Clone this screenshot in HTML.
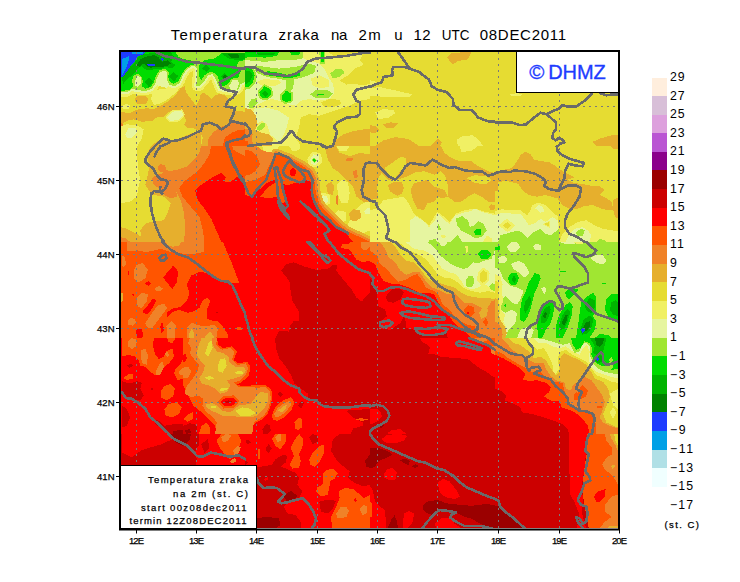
<!DOCTYPE html>
<html lang="hr"><head><meta charset="utf-8"><title>Temperatura zraka na 2m</title>
<style>
html,body{margin:0;padding:0;background:#fff}
svg{display:block;font-family:"Liberation Sans","DejaVu Sans",sans-serif}
.gr{stroke:#7a7a7a;stroke-width:1;stroke-dasharray:2 4;fill:none}
.co{stroke:#6a6a6a;stroke-width:2.6;fill:none;stroke-linejoin:round;stroke-linecap:round;shape-rendering:crispEdges}
.ax{font-size:9.5px;fill:#000;stroke:#000;stroke-width:0.25px}
.lg{font-size:12.3px;fill:#000;letter-spacing:1px}
.tt{font-size:15px;fill:#000}
.bx{font-size:9.5px;fill:#000;stroke:#000;stroke-width:0.25px}
</style></head><body>
<svg width="740" height="582" viewBox="0 0 740 582">
<rect width="740" height="582" fill="#fff"/>
<text y="40" class="tt"><tspan x="170.8" textLength="96.5">Temperatura</tspan> <tspan x="278.6" textLength="40.3">zraka</tspan> <tspan x="331.1" textLength="16.2">na</tspan> <tspan x="358.6" textLength="22.2">2m</tspan> <tspan x="394.2" textLength="6.5">u</tspan> <tspan x="413.5" textLength="17">12</tspan> <tspan x="441.7" textLength="27.7" lengthAdjust="spacingAndGlyphs">UTC</tspan> <tspan x="479.8" textLength="86.2">08DEC2011</tspan></text>
<g shape-rendering="crispEdges">
<rect x="121" y="52" width="497" height="476" fill="#E6DC32"/>
</g>
<svg x="121" y="52" width="497" height="476" viewBox="121 52 497 476">
<g shape-rendering="crispEdges">
<svg x="120" y="50" width="125" height="96" viewBox="120 50 125 96">
<rect x="120" y="50" width="125" height="96" fill="#E6DC32"/>
<polygon fill="#F0F064" points="152.1,92.2 157.2,89.7 169.0,88.0 177.4,86.3 178.3,90.5 172.4,95.6 165.6,100.7 158.9,104.1 153.8,104.9 151.2,99.0"/>
<polygon fill="#F0F064" points="120.0,126.0 126.8,124.3 136.9,125.2 143.6,129.4 142.0,137.8 137.7,145.9 120.0,145.9"/>
<polygon fill="#F0F064" points="121.7,106.6 125.9,103.7 130.1,105.7 128.4,109.1 123.4,109.5"/>
<polygon fill="#E6F5A0" points="125.1,134.5 128.4,128.5 136.0,127.7 136.9,132.8 131.8,137.8 126.8,137.8"/>
<polygon fill="#E6AF2D" points="134.4,99.8 137.7,95.9 145.3,95.9 148.7,99.8 145.3,104.1 137.7,104.1"/>
<polygon fill="#E6AF2D" points="120.0,112.2 130.1,112.8 138.6,109.1 147.0,108.3 153.8,109.1 160.5,105.7 169.0,100.7 175.7,94.8 180.8,88.0 185.0,86.3 185.9,92.2 190.9,99.0 196.0,105.7 199.4,99.0 201.1,93.6 204.5,93.1 207.8,95.6 211.2,99.0 214.6,95.6 219.7,93.9 225.6,95.6 229.0,100.7 229.8,107.4 233.2,110.8 245.0,111.7 245.0,145.9 201.1,145.9 202.8,137.8 199.4,131.1 194.3,128.5 187.6,127.7 184.2,124.3 185.9,120.9 185.0,117.6 182.5,112.5 175.7,110.0 169.0,111.7 163.9,116.7 157.2,117.2 152.1,120.9 142.0,121.8 133.5,119.3 126.8,120.9 120.0,125.2"/>
<polygon fill="#E6AF2D" points="151.2,145.9 157.2,141.2 163.9,137.8 170.7,142.1 180.8,137.8 190.9,133.6 201.1,129.4 201.1,145.9"/>
<polygon fill="#F0F064" stroke="#F0F064" stroke-width="2.7" stroke-linejoin="round" points="167.3,117.6 172.4,111.7 181.7,110.8 183.3,115.0 178.3,120.1 170.7,120.9"/>
<polygon fill="#E6F5A0" points="167.3,117.6 172.4,111.7 181.7,110.8 183.3,115.0 178.3,120.1 170.7,120.9"/>
<polygon fill="#F08228" points="207.8,145.9 208.7,137.8 214.6,131.1 221.4,126.9 228.1,124.3 232.3,121.8 238.2,122.6 245.0,124.3 245.0,145.9"/>
<polygon fill="#F08228" points="120.0,122.3 122.4,123.0 122.7,125.7 120.0,126.4"/>
<polygon fill="#FF5500" points="223.0,145.9 224.7,137.8 231.5,132.8 238.2,130.2 245.0,129.4 245.0,145.9"/>
<polygon fill="#F0F064" stroke="#F0F064" stroke-width="8.8" stroke-linejoin="round" points="120.0,50.0 245.0,50.0 245.0,82.1 240.8,83.8 238.2,89.7 233.2,91.4 228.1,90.5 223.0,89.7 219.7,88.9 217.6,83.8 214.9,77.0 212.1,74.0 208.2,75.3 204.5,80.7 199.7,86.3 196.4,86.3 196.9,77.0 197.4,68.6 194.3,66.0 190.9,66.4 186.7,69.9 183.3,74.5 181.1,79.6 178.8,83.8 174.1,86.3 169.3,84.6 166.8,79.6 167.3,73.3 164.8,70.6 160.2,72.0 156.8,77.9 155.1,84.6 151.2,89.2 145.3,90.9 136.9,90.2 131.8,88.5 127.6,92.2 120.0,92.2"/>
<polygon fill="#E6F5A0" stroke="#E6F5A0" stroke-width="4.1" stroke-linejoin="round" points="120.0,50.0 245.0,50.0 245.0,82.1 240.8,83.8 238.2,89.7 233.2,91.4 228.1,90.5 223.0,89.7 219.7,88.9 217.6,83.8 214.9,77.0 212.1,74.0 208.2,75.3 204.5,80.7 199.7,86.3 196.4,86.3 196.9,77.0 197.4,68.6 194.3,66.0 190.9,66.4 186.7,69.9 183.3,74.5 181.1,79.6 178.8,83.8 174.1,86.3 169.3,84.6 166.8,79.6 167.3,73.3 164.8,70.6 160.2,72.0 156.8,77.9 155.1,84.6 151.2,89.2 145.3,90.9 136.9,90.2 131.8,88.5 127.6,92.2 120.0,92.2"/>
<polygon fill="#E6F5A0" points="155.1,84.6 156.8,77.9 160.2,72.0 164.8,70.6 167.3,73.3 166.8,79.6 169.3,84.6 166.5,88.0 160.5,86.3"/>
<polygon fill="#A0E632" points="120.0,50.0 245.0,50.0 245.0,82.1 240.8,83.8 238.2,89.7 233.2,91.4 228.1,90.5 223.0,89.7 219.7,88.9 217.6,83.8 214.9,77.0 212.1,74.0 208.2,75.3 204.5,80.7 199.7,86.3 196.4,86.3 196.9,77.0 197.4,68.6 194.3,66.0 190.9,66.4 186.7,69.9 183.3,74.5 181.1,79.6 178.8,83.8 174.1,86.3 169.3,84.6 166.8,79.6 167.3,73.3 164.8,70.6 160.2,72.0 156.8,77.9 155.1,84.6 151.2,89.2 145.3,90.9 136.9,90.2 131.8,88.5 127.6,92.2 120.0,92.2"/>
<polygon fill="#00DC00" points="120.0,52.0 175.7,52.0 178.3,56.8 184.2,59.3 190.9,60.1 194.3,64.4 190.9,65.2 186.7,67.7 182.5,72.8 180.0,78.7 177.4,82.1 173.2,83.8 169.8,82.1 168.1,77.0 169.0,72.0 165.6,68.9 159.7,69.9 156.3,75.3 153.8,82.1 150.4,87.2 145.3,88.9 142.0,86.3 142.8,81.2 141.1,76.2 136.9,73.6 133.5,76.2 131.8,81.2 133.5,86.3 130.1,89.7 125.1,90.5 120.0,90.5"/>
<polygon fill="#00DC00" points="199.4,65.2 204.5,60.1 214.6,58.4 221.4,53.4 245.0,53.4 245.0,60.1 238.2,61.8 236.6,66.9 240.8,71.1 238.2,77.9 231.5,78.7 228.1,83.8 223.0,86.3 219.7,83.8 218.0,77.0 214.6,72.8 209.5,72.0 204.5,75.3 201.1,80.4 198.5,75.3"/>
<polygon fill="#A0E632" stroke="#A0E632" stroke-width="2.4" stroke-linejoin="round" points="134.9,81.2 137.7,75.3 141.1,77.9 140.6,83.8 137.7,86.8 135.2,85.5"/>
<polygon fill="#E6F5A0" points="134.9,81.2 137.7,75.3 141.1,77.9 140.6,83.8 137.7,86.8 135.2,85.5"/>
<polygon fill="#E6F5A0" points="229.0,86.3 232.3,80.4 237.4,79.6 239.1,83.8 236.6,89.7 231.5,90.5"/>
<polygon fill="#00B400" points="130.1,66.9 134.4,62.7 138.6,56.8 143.6,54.2 150.4,53.4 158.9,52.0 170.7,52.0 174.1,56.8 170.7,61.8 175.7,65.2 172.4,68.6 165.6,66.9 162.2,68.6 155.5,68.6 150.4,70.3 145.3,69.4 142.0,66.0 137.7,68.6 134.4,73.6 130.1,77.0 126.8,79.6 123.4,83.8 121.7,78.7 125.1,73.6"/>
<polygon fill="#00B400" points="144.5,82.1 148.7,77.4 152.9,81.8 149.1,87.2"/>
<polygon fill="#00B400" points="169.3,76.7 173.7,72.0 178.3,76.2 174.1,81.2"/>
<polygon fill="#00B400" points="202.4,68.6 206.1,64.9 209.9,68.6 206.5,72.3"/>
<polygon fill="#00B400" points="221.4,53.4 245.0,53.4 245.0,59.3 236.6,60.1 228.1,58.4"/>
<polygon fill="#00B400" points="221.0,77.0 224.7,73.3 229.0,77.0 225.1,80.7"/>
<polygon fill="#008200" points="136.9,65.2 140.3,59.3 145.3,56.8 153.8,55.1 158.0,56.8 162.2,61.8 168.1,60.1 170.7,63.5 167.3,66.0 162.2,66.9 156.3,66.9 151.2,67.7 147.0,66.9 143.6,63.5 139.4,66.9"/>
<polygon fill="#008200" points="228.1,54.2 238.2,53.7 239.1,57.6 231.5,58.4"/>
<polygon fill="#008200" points="222.4,77.0 224.9,74.7 227.6,77.0 225.1,79.4"/>
<polygon fill="#1E3CFF" points="120.0,52.0 145.3,52.0 143.6,54.2 138.6,55.9 134.4,61.8 130.1,66.9 125.9,72.8 122.5,77.0 120.0,77.9"/>
<polygon fill="#1E3CFF" points="147.0,64.4 154.6,63.9 155.5,65.5 147.9,66.0"/>
<polygon fill="#1E3CFF" points="160.5,59.3 162.2,57.6 163.9,59.3 162.2,61.0"/>
<polygon fill="#00A0E6" points="121.7,59.3 129.3,55.9 128.4,61.8 125.9,68.6 122.5,75.3 121.7,75.3"/>
<polygon fill="#00A0E6" points="131.8,52.0 143.6,52.0 142.8,53.7 132.7,54.2"/>
</svg>
<svg x="245" y="50" width="125" height="96" viewBox="245 50 125 96">
<rect x="245" y="50" width="125" height="96" fill="#F0F064"/>
<polygon fill="#E6DC32" points="300.7,117.6 309.2,114.2 319.3,115.9 329.5,112.5 339.6,109.1 349.7,105.7 359.9,100.7 370.0,99.0 370.0,129.4 363.2,130.2 353.1,131.9 343.0,135.3 336.2,140.4 332.8,145.9 300.7,145.9 295.7,137.8 299.1,127.7"/>
<polygon fill="#E6DC32" points="339.6,80.4 348.0,75.3 354.8,68.6 363.2,65.2 370.0,63.5 370.0,83.8 363.2,85.5 354.8,83.8 346.4,84.6"/>
<polygon fill="#E6DC32" points="327.8,52.0 370.0,52.0 370.0,56.8 359.9,55.1 346.4,56.8 336.2,57.6"/>
<polygon fill="#E6DC32" points="321.0,102.4 329.5,99.0 339.6,99.8 341.3,104.1 332.8,107.4 324.4,107.4"/>
<polygon fill="#E6DC32" points="363.2,54.7 370.0,55.9 370.0,64.4 364.1,65.5 359.9,60.1"/>
<polygon fill="#E6F5A0" points="245.0,60.1 255.1,58.4 278.8,57.6 300.7,56.8 307.5,60.1 319.3,63.5 324.4,68.6 329.5,78.7 332.8,83.8 334.5,92.2 329.5,99.0 319.3,100.7 309.2,99.0 300.7,100.7 295.7,105.7 287.2,104.1 278.8,100.7 272.0,99.0 265.3,100.7 258.5,104.1 251.8,108.3 245.0,109.1"/>
<polygon fill="#E6F5A0" points="255.1,108.3 265.3,107.4 278.8,110.8 288.9,117.6 287.2,126.0 283.9,134.5 278.8,142.1 270.3,134.5 267.0,124.3 261.9,120.9 255.1,124.3 250.1,120.9 251.8,114.2"/>
<polygon fill="#F0F064" points="256.8,82.1 263.6,79.1 278.8,80.1 281.3,82.9 275.4,85.8 261.9,85.5"/>
<polygon fill="#F0F064" points="310.9,78.7 319.3,75.3 328.6,79.6 329.5,86.3 321.0,88.5 312.6,85.5"/>
<polygon fill="#E6AF2D" points="245.0,108.3 250.9,109.1 255.5,115.0 257.7,124.3 255.1,129.4 261.9,132.8 268.6,134.5 272.9,137.8 272.0,145.9 245.0,145.9"/>
<polygon fill="#E6AF2D" points="332.8,145.9 336.2,139.5 343.0,134.5 353.1,131.1 363.2,129.4 370.0,128.5 370.0,145.9"/>
<polygon fill="#F08228" points="245.0,129.4 249.2,129.4 252.6,134.5 251.8,141.2 255.1,145.9 245.0,145.9"/>
<polygon fill="#FF5500" points="245.0,141.2 247.5,141.2 249.2,145.9 245.0,145.9"/>
<polygon fill="#A0E632" points="245.0,52.0 303.3,52.0 302.4,58.4 292.3,60.5 278.8,60.1 265.3,61.8 255.1,61.0 245.0,60.1"/>
<polygon fill="#A0E632" points="255.1,65.2 265.3,66.9 278.8,68.6 295.7,66.9 309.2,63.5 315.9,66.0 314.3,72.8 304.1,77.0 294.0,79.6 293.1,88.9 289.3,91.4 286.4,89.7 286.4,80.4 278.8,78.7 267.0,77.0 258.5,73.6 255.1,70.3"/>
<polygon fill="#A0E632" points="310.0,94.3 315.9,90.2 326.9,89.7 333.2,93.6 327.8,98.1 315.9,98.1"/>
<polygon fill="#A0E632" points="330.3,73.6 335.4,68.9 342.1,68.9 344.3,72.8 339.6,77.0 332.8,78.4"/>
<polygon fill="#A0E632" points="248.4,104.1 251.8,99.0 256.8,98.1 257.7,102.4 253.4,108.3 249.2,108.3"/>
<polygon fill="#A0E632" points="256.5,127.7 261.0,123.0 265.3,122.6 264.9,126.9 260.2,130.7 257.2,130.2"/>
<polygon fill="#A0E632" points="245.0,66.0 253.4,66.9 256.8,75.3 255.1,83.8 250.1,88.9 245.0,89.7"/>
<polygon fill="#A0E632" points="319.3,52.0 325.2,52.0 324.7,63.5 320.2,63.9"/>
<polygon fill="#A0E632" stroke="#A0E632" stroke-width="3.7" stroke-linejoin="round" points="259.4,92.2 264.4,86.3 270.3,88.9 271.2,94.8 266.1,98.6 261.0,97.3"/>
<polygon fill="#A0E632" stroke="#A0E632" stroke-width="3.7" stroke-linejoin="round" points="281.8,95.6 286.4,90.5 291.5,93.9 290.9,100.7 285.5,102.0 282.2,99.8"/>
<polygon fill="#00DC00" points="259.4,92.2 264.4,86.3 270.3,88.9 271.2,94.8 266.1,98.6 261.0,97.3"/>
<polygon fill="#00DC00" points="281.8,95.6 286.4,90.5 291.5,93.9 290.9,100.7 285.5,102.0 282.2,99.8"/>
<polygon fill="#00DC00" points="245.0,52.0 278.8,52.0 277.1,55.9 265.3,57.6 255.1,57.1 245.0,57.6"/>
<polygon fill="#00DC00" points="289.8,52.0 300.7,52.0 299.1,55.1 291.5,55.4"/>
<polygon fill="#00DC00" points="267.0,71.1 278.8,72.8 288.9,75.3 299.1,72.8 300.7,75.3 290.6,78.4 278.8,77.0 267.8,75.3"/>
<polygon fill="#00DC00" points="245.0,67.7 251.8,68.2 254.8,75.3 252.6,82.9 248.4,87.2 245.0,87.5"/>
<polygon fill="#00DC00" points="320.7,52.0 324.1,52.0 323.7,61.8 321.0,62.2"/>
<polygon fill="#00DC00" points="317.3,93.6 324.4,93.6 324.4,94.9 317.3,94.9"/>
<polygon fill="#00B400" points="261.9,93.6 265.3,90.5 268.6,93.6 265.6,96.6"/>
<polygon fill="#00B400" points="245.0,70.3 250.1,71.1 252.6,75.3 250.1,81.2 245.0,84.6"/>
<polygon fill="#00B400" points="255.1,52.5 275.4,52.5 273.7,54.7 258.5,55.1"/>
</svg>
<svg x="370" y="50" width="125" height="96" viewBox="370 50 125 96">
<rect x="370" y="50" width="125" height="96" fill="#E6DC32"/>
<polygon fill="#F0F064" points="370.0,88.0 380.1,87.2 392.0,89.7 412.2,94.3 408.9,97.3 393.6,96.5 380.1,96.5 370.0,95.6"/>
<polygon fill="#F0F064" points="375.1,112.5 383.5,109.1 393.6,110.0 395.3,113.3 388.6,117.6 378.4,119.3"/>
<polygon fill="#F0F064" points="457.0,139.5 462.9,136.1 473.0,135.3 479.8,141.2 483.2,145.9 457.8,145.9"/>
<polygon fill="#F0F064" points="370.0,80.4 375.1,81.2 376.8,83.8 370.0,86.3"/>
<polygon fill="#E6AF2D" points="446.9,57.6 451.1,53.4 464.6,52.0 471.4,52.5 468.0,59.3 457.8,61.0 452.8,64.4"/>
<polygon fill="#E6AF2D" points="382.7,124.3 390.3,122.3 397.9,123.5 393.6,127.7 386.0,128.0"/>
<polygon fill="#E6AF2D" points="370.0,125.2 375.1,126.0 380.1,130.2 375.1,132.8 370.0,132.4"/>
<polygon fill="#E6AF2D" points="375.1,145.9 383.5,140.4 395.3,137.0 408.9,139.2 419.0,145.9"/>
<polygon fill="#E6AF2D" points="430.8,145.9 437.6,138.7 441.8,142.1 440.1,145.9"/>
</svg>
<svg x="495" y="50" width="125" height="96" viewBox="495 50 125 96">
<rect x="495" y="50" width="125" height="96" fill="#E6DC32"/>
<polygon fill="#F0F064" points="510.2,94.3 517.0,93.1 522.9,94.3 518.6,96.5 511.9,95.9"/>
<polygon fill="#E6AF2D" points="592.1,142.1 599.7,138.7 611.6,135.3 620.0,134.5 620.0,145.9 596.4,145.9"/>
</svg>
<svg x="120" y="146" width="125" height="96" viewBox="120 146 125 96">
<rect x="120" y="146" width="125" height="96" fill="#F0F064"/>
<polygon fill="#E6DC32" points="136.9,146.0 151.2,146.0 146.2,156.1 149.6,164.6 147.9,174.7 145.3,184.9 149.6,191.6 153.8,195.0 163.9,196.7 170.7,203.4 167.3,213.6 163.9,220.3 153.8,221.2 145.3,223.7 140.3,230.5 142.0,241.9 120.0,241.9 120.0,203.4 130.1,201.7 136.9,196.7 138.6,186.5 140.3,179.8 138.6,171.3 137.7,162.9 136.9,154.4"/>
<polygon fill="#E6AF2D" points="151.2,146.0 201.1,146.0 199.4,152.8 194.3,159.5 187.6,166.3 177.4,169.6 169.0,171.3 163.9,173.0 170.7,179.8 175.7,189.9 180.8,200.1 184.2,213.6 185.0,227.1 184.2,241.9 142.0,241.9 140.3,230.5 145.3,223.7 153.8,221.2 163.9,220.3 167.3,213.6 170.7,203.4 163.9,196.7 153.8,195.0 149.6,191.6 145.3,184.9 147.9,174.7 149.6,164.6 146.2,156.1"/>
<polygon fill="#E6AF2D" points="120.0,227.1 126.8,228.8 136.9,233.8 142.0,237.2 142.0,241.9 120.0,241.9"/>
<polygon fill="#F08228" points="201.1,146.0 211.2,146.0 209.5,154.4 204.5,162.9 197.7,171.3 190.9,176.4 184.2,181.5 179.1,188.2 182.5,196.7 190.9,206.8 199.4,216.9 202.8,230.5 204.5,241.9 184.2,241.9 185.0,227.1 184.2,213.6 180.8,200.1 175.7,189.9 170.7,179.8 163.9,173.0 159.7,171.3 157.2,168.0 160.5,164.2 164.8,164.9 166.5,169.6 169.0,171.3 177.4,169.6 187.6,166.3 194.3,159.5 199.4,152.8"/>
<polygon fill="#F08228" points="152.1,178.1 157.2,174.7 163.9,173.0 170.7,179.8 175.7,189.9 177.4,196.7 170.7,198.4 163.9,195.0 158.9,188.2 153.8,184.9"/>
<polygon fill="#F08228" points="120.0,237.2 125.1,238.1 130.1,241.9 120.0,241.9"/>
<polygon fill="#FF5500" points="211.2,146.0 228.1,146.0 245.0,146.0 245.0,241.9 204.5,241.9 202.8,230.5 199.4,216.9 190.9,206.8 182.5,196.7 179.1,188.2 184.2,181.5 190.9,176.4 197.7,171.3 204.5,162.9 209.5,154.4"/>
<polygon fill="#F08228" points="232.3,146.0 245.0,146.0 245.0,156.1 238.2,152.8 233.2,149.4"/>
<polygon fill="#FF0000" points="195.2,190.8 201.1,184.9 211.2,178.1 221.4,173.0 225.6,177.2 224.7,182.3 229.8,182.3 236.6,177.2 241.6,174.7 245.0,179.8 245.0,241.9 221.4,241.9 216.3,230.5 211.2,218.6 204.5,208.5 197.7,200.1"/>
</svg>
<svg x="245" y="146" width="125" height="96" viewBox="245 146 125 96">
<rect x="245" y="146" width="125" height="96" fill="#E6DC32"/>
<polygon fill="#F0F064" points="261.9,146.0 278.8,146.0 277.1,151.1 268.6,152.8 263.6,150.2"/>
<polygon fill="#F0F064" points="288.9,146.0 300.7,146.0 299.1,150.2 292.3,151.1"/>
<polygon fill="#F0F064" points="336.2,146.0 349.7,146.0 346.4,150.7 339.6,151.1"/>
<polygon fill="#F0F064" points="337.1,184.9 341.3,179.8 348.0,182.3 349.7,193.3 348.0,203.4 341.3,202.6 337.9,195.0"/>
<polygon fill="#F0F064" points="332.8,215.3 337.9,210.2 345.5,211.9 346.4,220.3 339.6,223.7 333.7,222.0"/>
<polygon fill="#F0F064" points="346.4,227.1 353.1,213.6 359.9,205.1 366.6,201.7 370.0,201.7 370.0,230.5 361.6,233.8 353.1,233.8"/>
<polygon fill="#F0F064" stroke="#F0F064" stroke-width="5.1" stroke-linejoin="round" points="310.0,159.5 313.4,154.4 318.5,155.3 319.7,161.2 315.9,164.9 311.2,164.2"/>
<polygon fill="#F0F064" stroke="#F0F064" stroke-width="5.1" stroke-linejoin="round" points="320.2,200.1 323.0,195.3 327.4,196.7 327.8,201.7 324.4,204.3 321.0,203.4"/>
<polygon fill="#E6F5A0" points="310.0,159.5 313.4,154.4 318.5,155.3 319.7,161.2 315.9,164.9 311.2,164.2"/>
<polygon fill="#E6F5A0" points="320.2,200.1 323.0,195.3 327.4,196.7 327.8,201.7 324.4,204.3 321.0,203.4"/>
<polygon fill="#E6F5A0" points="364.1,211.0 367.5,207.7 370.0,208.5 370.0,214.4 365.8,214.4"/>
<polygon fill="#A0E632" points="311.7,160.4 314.3,157.5 316.8,160.4 314.3,162.9"/>
<polygon fill="#00DC00" points="312.6,160.4 314.3,158.7 315.9,160.4 314.3,162.0"/>
<polygon fill="#E6AF2D" points="324.4,146.0 336.2,146.0 339.6,152.8 349.7,156.1 359.9,152.8 370.0,154.4 370.0,201.7 363.2,201.7 356.5,196.7 353.1,186.5 346.4,179.8 339.6,173.0 332.8,168.0 327.8,159.5"/>
<polygon fill="#E6AF2D" points="348.9,213.6 353.1,209.3 359.9,210.2 361.6,216.9 356.5,221.2 350.6,220.3"/>
<polygon fill="#E6AF2D" points="326.1,184.9 331.1,181.5 334.5,186.5 332.8,195.0 327.8,193.3"/>
<polygon fill="#F08228" points="346.0,158.7 353.1,157.8 353.4,160.4 346.4,161.2"/>
<polygon fill="#F08228" points="353.1,171.3 356.8,169.6 357.8,177.2 354.0,178.4"/>
<polygon fill="#F08228" points="336.2,196.7 337.9,195.0 338.2,205.1 336.6,206.0"/>
<polygon fill="#E6AF2D" stroke="#E6AF2D" stroke-width="9.8" stroke-linejoin="round" points="245.0,182.3 255.1,179.8 265.3,174.7 270.3,162.9 276.2,153.6 287.2,157.8 300.7,164.6 310.0,171.3 314.3,179.8 315.9,193.3 319.3,203.4 324.4,210.2 332.8,218.6 339.6,225.4 346.4,230.5 356.5,235.5 370.0,241.9 245.0,241.9"/>
<polygon fill="#F08228" stroke="#F08228" stroke-width="4.4" stroke-linejoin="round" points="245.0,182.3 255.1,179.8 265.3,174.7 270.3,162.9 276.2,153.6 287.2,157.8 300.7,164.6 310.0,171.3 314.3,179.8 315.9,193.3 319.3,203.4 324.4,210.2 332.8,218.6 339.6,225.4 346.4,230.5 356.5,235.5 370.0,241.9 245.0,241.9"/>
<polygon fill="#F08228" points="245.0,146.0 256.8,146.0 263.6,151.1 273.7,152.8 277.1,153.6 270.3,162.9 265.3,174.7 255.1,179.8 245.0,182.3"/>
<polygon fill="#FF5500" points="245.0,182.3 255.1,179.8 265.3,174.7 270.3,162.9 276.2,153.6 287.2,157.8 300.7,164.6 310.0,171.3 314.3,179.8 315.9,193.3 319.3,203.4 324.4,210.2 332.8,218.6 339.6,225.4 346.4,230.5 356.5,235.5 370.0,241.9 245.0,241.9"/>
<polygon fill="#FF5500" points="245.0,149.4 251.8,151.1 256.8,156.1 260.2,164.6 255.1,171.3 250.1,174.7 245.0,175.6"/>
<polygon fill="#FF0000" points="245.0,195.0 251.8,197.0 258.5,190.3 267.0,182.8 273.7,179.8 279.6,182.3 287.2,185.2 295.7,182.8 302.4,179.8 308.3,179.8 311.7,183.2 312.6,193.3 314.3,201.7 319.3,209.3 326.1,216.9 332.8,223.7 339.6,229.6 346.4,233.8 353.1,241.9 245.0,241.9"/>
<polygon fill="#FF0000" points="289.8,171.3 293.1,167.1 296.5,171.3 294.3,176.4 290.6,175.6"/>
<polygon fill="#FF5500" points="260.2,196.7 267.0,188.2 275.4,182.3 281.3,182.3 284.7,193.3 286.4,201.7 281.3,203.4 277.1,196.7 268.6,198.4"/>
<polygon fill="#FF5500" points="283.0,171.3 286.4,165.4 289.3,167.1 290.3,173.0 287.2,177.2 284.2,176.1"/>
</svg>
<svg x="370" y="146" width="125" height="96" viewBox="370 146 125 96">
<rect x="370" y="146" width="125" height="96" fill="#E6DC32"/>
<polygon fill="#E6AF2D" points="370.0,146.0 440.9,146.0 444.3,152.8 451.1,157.8 459.5,161.2 471.4,161.2 478.1,166.3 488.2,171.3 495.0,173.0 495.0,201.7 488.2,201.7 481.5,196.7 474.7,193.3 468.0,196.7 461.2,201.7 454.5,201.7 447.7,196.7 447.7,184.9 445.2,175.6 440.9,171.3 434.2,174.7 424.1,171.3 415.6,172.2 407.2,176.4 397.0,179.8 388.6,179.8 381.8,173.0 378.4,178.1 376.8,188.2 378.4,198.4 370.0,200.1"/>
<polygon fill="#E6AF2D" points="387.7,184.9 393.6,182.3 402.1,182.3 403.8,188.2 402.1,193.3 397.0,195.8 390.3,191.6"/>
<polygon fill="#E6AF2D" points="410.5,189.9 413.9,183.2 420.7,181.5 427.4,179.8 434.2,186.5 444.3,189.9 447.7,196.7 442.6,198.4 437.6,196.7 434.2,201.7 427.4,203.4 424.1,210.2 417.3,208.5 413.1,200.1"/>
<polygon fill="#E6AF2D" points="488.2,206.8 491.6,204.3 495.0,205.1 495.0,209.3 490.8,209.9"/>
<polygon fill="#E6AF2D" points="382.7,212.7 386.0,209.9 388.9,212.2 386.0,215.3"/>
<polygon fill="#E6AF2D" points="370.0,237.2 376.8,236.4 381.8,241.9 370.0,241.9"/>
<polygon fill="#E6DC32" points="384.4,168.0 392.0,162.9 400.4,157.0 406.3,157.8 406.3,164.6 400.4,171.3 395.3,178.1 388.6,174.7"/>
<polygon fill="#E6DC32" points="466.3,178.1 474.7,175.1 486.6,176.4 491.6,179.8 486.6,184.0 474.7,183.2"/>
<polygon fill="#E6DC32" points="440.9,146.0 495.0,146.0 495.0,157.8 488.2,159.5 478.1,157.8 471.4,160.9 459.5,160.9 451.1,157.5 444.3,152.4"/>
<polygon fill="#F0F064" points="459.5,146.0 478.1,146.0 471.4,151.1 461.2,151.9"/>
<polygon fill="#F08228" points="370.0,239.8 374.2,239.2 376.8,241.9 370.0,241.9"/>
<polygon fill="#F0F064" points="383.5,200.1 403.8,196.7 408.9,203.4 413.9,213.6 420.7,218.6 429.1,225.4 434.2,216.9 437.6,211.9 444.3,216.9 449.4,222.0 456.1,213.6 464.6,210.2 474.7,208.5 484.9,211.9 495.0,213.6 495.0,241.9 370.0,241.9 370.0,210.2 376.8,208.5"/>
<polygon fill="#E6F5A0" points="410.5,220.3 415.6,216.1 422.4,220.3 429.1,227.1 435.0,220.3 437.6,213.6 442.6,218.6 449.4,223.7 455.3,215.3 462.9,212.7 471.4,211.0 474.7,208.5 481.5,211.9 495.0,215.3 495.0,241.9 409.7,241.9"/>
<polygon fill="#F0F064" points="440.9,235.5 445.2,234.7 446.0,237.2 441.8,238.1"/>
<polygon fill="#F0F064" points="483.2,241.9 486.6,235.5 491.6,238.1 492.5,241.9"/>
<polygon fill="#A0E632" points="456.1,218.6 462.1,216.1 468.0,220.3 469.7,227.1 474.7,225.4 478.1,221.2 483.2,223.7 486.6,230.5 481.5,237.2 474.7,238.1 468.0,233.8 461.2,230.5 457.0,225.4"/>
<polygon fill="#A0E632" points="437.6,222.0 441.8,230.5 437.6,229.6"/>
<polygon fill="#A0E632" points="451.1,241.9 457.8,234.7 462.1,241.9"/>
<polygon fill="#A0E632" points="429.1,240.6 435.9,238.9 436.7,241.9 429.1,241.9"/>
<polygon fill="#00DC00" points="473.9,231.3 477.3,228.8 481.5,229.6 480.6,234.7 475.6,235.5"/>
</svg>
<svg x="495" y="146" width="125" height="96" viewBox="495 146 125 96">
<rect x="495" y="146" width="125" height="96" fill="#E6DC32"/>
<polygon fill="#E6AF2D" points="495.0,171.3 505.1,169.6 511.9,168.0 517.0,161.2 521.2,154.4 525.4,151.9 530.5,154.4 533.9,159.5 540.6,161.2 549.1,162.0 555.8,166.3 562.6,171.3 569.3,174.7 574.4,177.2 567.6,179.8 574.4,183.2 582.8,184.0 591.3,185.7 599.7,186.5 604.8,189.9 599.7,195.0 606.5,198.4 611.6,201.7 613.2,210.2 603.1,209.3 593.0,205.1 584.5,206.0 576.1,209.3 569.3,208.5 562.6,205.1 557.5,198.4 545.7,195.0 537.2,196.7 528.8,195.0 522.0,189.9 518.6,184.0 511.9,182.3 505.1,180.6 498.4,182.3 498.4,190.8 495.0,191.6"/>
<polygon fill="#E6AF2D" points="613.2,200.1 617.5,197.5 618.0,218.6 614.9,216.9 612.4,206.8"/>
<polygon fill="#E6AF2D" points="609.9,146.0 618.0,146.0 618.0,149.4 613.2,148.5"/>
<polygon fill="#F0F064" points="495.0,211.0 501.8,209.3 511.9,210.2 520.3,210.2 527.1,215.3 530.5,210.2 532.2,205.1 538.9,202.6 545.7,205.1 552.4,211.9 558.3,216.9 559.2,241.9 495.0,241.9"/>
<polygon fill="#F0F064" points="559.2,241.9 562.6,233.8 569.3,227.1 577.8,222.0 586.2,220.3 594.7,225.4 603.1,228.8 613.2,230.5 618.0,230.5 618.0,241.9"/>
<polygon fill="#E6F5A0" points="495.0,215.3 501.8,212.7 511.9,213.6 520.3,213.6 525.4,220.3 528.8,225.4 535.5,222.9 540.6,218.6 545.7,222.0 552.4,216.9 557.5,220.3 559.2,241.9 495.0,241.9"/>
<polygon fill="#E6F5A0" points="535.5,208.5 538.9,205.1 543.1,206.8 544.0,211.9 539.8,212.7"/>
<polygon fill="#E6F5A0" points="565.9,241.9 569.3,233.8 574.4,228.8 582.8,227.1 587.9,230.5 591.3,235.5 589.6,241.9"/>
<polygon fill="#F0F064" points="498.4,225.4 506.8,218.6 515.3,225.4 507.7,232.1"/>
<polygon fill="#F0F064" points="542.3,224.0 550.4,220.7 549.9,227.9"/>
<polygon fill="#E6DC32" points="502.6,225.4 507.2,222.0 511.6,225.4 507.5,229.1"/>
<polygon fill="#E6DC32" points="544.0,224.0 549.4,222.0 549.1,226.7"/>
<polygon fill="#A0E632" points="498.4,241.9 500.1,235.5 508.5,233.0 517.0,230.5 522.0,232.1 527.9,238.1 533.9,232.1 539.8,228.8 545.7,233.8 550.7,235.5 559.2,228.8 559.2,241.9"/>
<polygon fill="#A0E632" points="575.7,232.1 581.1,228.8 584.9,230.5 582.8,235.5 577.8,236.4"/>
<polygon fill="#A0E632" points="596.4,241.9 599.7,239.2 604.8,239.8 606.5,241.9"/>
</svg>
<svg x="120" y="242" width="125" height="96" viewBox="120 242 125 96">
<rect x="120" y="242" width="125" height="96" fill="#FF5500"/>
<polygon fill="#F08228" points="126.8,242.0 204.5,242.0 203.6,252.1 194.3,253.8 184.2,253.8 170.7,252.1 160.5,248.8 147.0,252.1 136.9,250.4 126.8,251.3"/>
<polygon fill="#F08228" points="133.5,270.7 136.9,264.8 142.8,263.1 147.9,269.9 145.3,278.3 138.6,282.5 134.4,279.2"/>
<polygon fill="#F08228" points="136.9,297.7 142.0,292.7 147.9,294.4 147.0,301.1 142.0,307.9 137.7,307.0"/>
<polygon fill="#F08228" points="154.6,288.5 158.9,285.9 163.1,288.5 160.5,291.0 156.3,291.0"/>
<polygon fill="#F08228" points="145.3,323.1 152.1,312.9 158.0,305.3 163.9,303.7 167.3,307.9 162.2,314.6 157.2,321.4 152.1,328.1 147.0,327.3"/>
<polygon fill="#F08228" points="127.6,321.4 131.0,318.0 135.2,318.9 136.0,323.1 132.7,325.6 128.4,324.8"/>
<polygon fill="#F08228" points="121.7,255.5 125.1,257.2 125.9,264.0 123.4,267.3 121.7,265.6"/>
<polygon fill="#F08228" points="166.5,326.5 171.5,321.4 175.7,324.8 174.9,337.9 166.5,337.9"/>
<polygon fill="#F08228" points="186.7,328.1 191.8,322.2 196.9,324.8 204.5,326.5 214.6,324.8 218.0,328.1 216.3,337.9 186.7,337.9"/>
<polygon fill="#E6AF2D" points="189.3,333.2 191.8,329.0 194.3,333.2 194.3,337.9 189.3,337.9"/>
<polygon fill="#E6AF2D" points="205.3,336.6 210.4,331.5 214.6,337.9 205.3,337.9"/>
<polygon fill="#E6AF2D" points="165.6,242.0 180.8,242.0 179.1,245.4 173.2,246.7 168.1,245.4"/>
<polygon fill="#E6AF2D" points="121.4,292.7 123.4,293.5 123.4,301.1 121.4,302.0"/>
<polygon fill="#FF0000" points="223.0,242.0 245.0,242.0 245.0,337.9 228.1,337.9 227.4,333.2 221.4,324.8 218.0,321.4 212.1,320.5 206.5,318.9 207.0,309.6 210.4,301.1 207.0,297.7 202.8,300.3 199.4,307.9 194.3,311.3 187.6,312.9 179.1,309.6 172.4,312.1 167.0,317.2 166.5,312.9 172.4,308.7 180.8,307.0 187.6,299.4 189.3,292.7 186.7,284.2 190.9,275.8 199.4,271.6 207.8,273.2 216.3,277.5 228.1,282.5 239.1,282.5 236.6,275.8 231.5,262.3 226.4,250.4"/>
<polygon fill="#FF0000" points="163.1,277.5 173.2,265.6 178.3,271.6 176.6,282.5 172.4,289.3"/>
<polygon fill="#FF0000" points="142.0,312.1 147.0,306.2 152.9,298.6 156.3,300.3 152.1,308.7 147.0,314.6"/>
<polygon fill="#FF0000" points="145.3,283.4 148.4,280.9 151.2,283.4 148.4,286.3"/>
<polygon fill="#FF0000" points="136.0,329.8 141.1,328.1 143.6,334.1 142.0,337.9 136.9,337.9"/>
<polygon fill="#FF0000" points="160.2,326.5 162.2,321.4 164.3,329.8 161.4,333.2"/>
<polygon fill="#FF0000" points="127.6,270.7 129.3,270.7 128.8,274.9 127.8,274.9"/>
<polygon fill="#FF0000" points="131.8,294.4 134.4,293.5 133.9,296.1"/>
<polygon fill="#FF5500" points="236.6,327.3 240.8,326.5 241.6,329.8 237.4,330.2"/>
<polygon fill="#CC0000" points="214.6,311.3 218.0,312.1 217.1,313.8"/>
</svg>
<svg x="245" y="242" width="125" height="96" viewBox="245 242 125 96">
<rect x="245" y="242" width="125" height="96" fill="#FF0000"/>
<polygon fill="#CC0000" points="281.3,270.7 286.4,264.0 294.0,262.3 304.1,266.5 315.9,269.9 327.8,269.0 332.8,264.8 337.1,265.6 336.2,270.7 343.0,279.2 351.4,289.3 356.5,297.7 361.6,301.5 370.0,292.7 370.0,337.9 275.4,337.9 278.8,331.5 288.1,331.2 289.3,333.2 289.8,326.5 294.0,320.5 299.1,320.5 299.4,312.9 295.7,306.2 292.3,301.1 290.6,291.0 289.3,280.9"/>
<polygon fill="#FF5500" points="340.4,247.1 343.0,243.7 348.0,244.5 350.6,242.0 370.0,242.0 370.0,260.6 363.2,262.3 356.5,259.7 353.1,254.7 349.7,249.6 344.7,248.8"/>
<polygon fill="#F08228" points="360.7,242.0 370.0,242.0 370.0,247.1 365.8,250.4 361.6,248.8"/>
</svg>
<svg x="370" y="242" width="125" height="96" viewBox="370 242 125 96">
<rect x="370" y="242" width="125" height="96" fill="#E6DC32"/>
<polygon fill="#F0F064" points="398.7,242.0 408.9,250.4 417.3,253.8 425.7,258.9 432.5,267.3 437.6,274.1 444.3,277.5 451.1,278.3 457.8,282.5 464.6,288.5 471.4,291.0 479.8,292.7 488.2,291.0 495.0,292.7 495.0,242.0"/>
<polygon fill="#E6F5A0" points="405.5,242.0 413.9,248.8 424.1,250.4 432.5,255.5 437.6,262.3 442.6,269.0 449.4,272.4 456.1,274.1 461.2,280.9 464.6,286.8 471.4,289.3 478.1,287.6 484.9,284.2 489.9,287.6 495.0,290.1 495.0,242.0"/>
<polygon fill="#F0F064" stroke="#F0F064" stroke-width="4.4" stroke-linejoin="round" points="479.8,274.1 483.2,269.9 487.4,273.2 486.6,280.0 482.3,283.4 479.5,280.0"/>
<polygon fill="#E6DC32" points="479.8,274.1 483.2,269.9 487.4,273.2 486.6,280.0 482.3,283.4 479.5,280.0"/>
<polygon fill="#A0E632" points="427.4,242.0 495.0,242.0 495.0,249.6 491.6,258.9 484.9,260.6 478.1,263.1 473.0,262.3 468.8,267.3 463.8,269.0 457.8,267.3 451.1,264.0 445.2,259.7 439.3,254.7 435.0,247.9"/>
<polygon fill="#A0E632" points="465.4,280.9 468.8,275.8 473.0,275.8 474.4,282.5 471.4,287.6 466.6,286.3"/>
<polygon fill="#A0E632" points="489.1,285.9 492.5,283.4 495.0,284.2 495.0,291.0 490.8,290.1"/>
<polygon fill="#E6F5A0" points="439.3,242.0 447.7,242.0 446.0,245.4 440.9,246.2"/>
<polygon fill="#F0F064" points="465.4,246.2 468.0,245.4 468.3,252.1 465.9,253.0"/>
<polygon fill="#00DC00" points="477.3,253.8 482.3,249.6 488.2,250.4 491.6,254.2 488.2,258.9 481.5,258.9"/>
<polygon fill="#E6AF2D" points="370.0,242.0 390.3,242.0 395.3,247.1 400.4,254.7 406.3,260.6 413.9,262.3 419.0,267.3 424.1,274.1 429.1,280.0 437.6,282.5 446.0,285.1 454.5,287.6 461.2,292.7 468.0,296.1 478.1,297.7 488.2,297.7 495.0,299.4 495.0,337.9 370.0,337.9"/>
<polygon fill="#F08228" points="370.0,242.0 380.1,242.0 385.2,248.8 388.6,257.2 395.3,262.3 400.4,270.7 406.3,274.9 412.2,272.4 419.0,271.6 425.7,280.9 432.5,287.6 440.9,291.0 447.7,294.4 454.5,292.7 459.5,297.7 464.6,302.8 471.4,302.8 478.1,306.2 486.6,309.6 491.6,301.1 495.0,300.3 495.0,337.9 370.0,337.9"/>
<polygon fill="#E6AF2D" points="479.0,312.9 483.2,307.0 488.2,309.6 486.6,316.3 481.5,318.9"/>
<polygon fill="#FF5500" points="370.0,250.4 376.8,255.5 380.1,264.0 386.9,269.0 392.0,275.8 398.7,281.7 405.5,280.0 412.2,275.8 417.3,274.1 422.4,280.9 425.7,287.6 434.2,291.0 439.3,296.1 442.6,304.5 449.4,309.6 454.5,316.3 461.2,321.4 468.0,324.8 474.7,326.5 479.8,333.2 484.9,337.9 370.0,337.9"/>
<polygon fill="#FF5500" points="463.8,309.6 468.0,305.3 473.9,307.0 474.7,312.9 470.5,317.2 465.4,315.5"/>
<polygon fill="#FF5500" points="482.8,322.2 485.7,318.0 488.6,322.7 486.2,326.5"/>
<polygon fill="#FF0000" points="370.0,261.4 375.1,264.0 378.4,272.4 383.5,280.9 390.3,283.4 398.7,284.2 408.9,287.6 419.0,292.7 427.4,292.7 434.2,294.4 437.6,301.1 442.6,309.6 449.4,316.3 452.8,321.4 457.8,326.5 464.6,331.5 471.4,337.9 370.0,337.9"/>
<polygon fill="#FF0000" points="466.3,312.6 468.8,311.6 469.3,313.8 467.0,314.3"/>
<polygon fill="#CC0000" points="370.0,278.3 373.4,282.5 376.8,291.0 378.4,306.2 385.2,309.6 386.9,316.3 380.1,321.4 378.4,328.1 390.3,329.8 400.4,323.1 403.8,316.3 406.3,323.1 406.3,328.1 413.9,329.8 420.7,334.1 434.2,334.9 446.0,331.5 447.7,337.9 370.0,337.9"/>
<polygon fill="#CC0000" points="386.0,296.1 392.0,289.3 400.4,288.5 403.8,292.7 400.4,299.4 393.6,302.8 386.9,301.1"/>
</svg>
<svg x="495" y="242" width="125" height="96" viewBox="495 242 125 96">
<rect x="495" y="242" width="125" height="96" fill="#A0E632"/>
<polygon fill="#E6F5A0" points="506.8,247.1 511.0,242.0 517.0,242.0 520.3,247.1 515.3,252.1 510.2,252.1"/>
<polygon fill="#E6F5A0" points="533.0,246.2 536.4,243.7 541.5,245.4 540.6,249.6 535.5,250.4"/>
<polygon fill="#E6F5A0" points="498.4,258.0 503.4,255.5 507.7,258.9 505.1,263.1 499.2,263.1"/>
<polygon fill="#E6F5A0" points="511.0,264.0 518.6,260.6 524.6,264.0 529.6,272.4 524.6,277.5 518.6,272.4 513.6,269.0"/>
<polygon fill="#E6F5A0" points="541.5,288.5 544.3,286.3 546.5,290.1 544.3,294.4"/>
<polygon fill="#E6F5A0" points="590.4,258.0 596.4,254.7 603.1,255.5 606.5,260.6 603.1,264.0 596.4,263.1"/>
<polygon fill="#E6F5A0" points="560.0,242.0 582.8,242.0 574.4,243.7 565.9,244.0"/>
<polygon fill="#E6F5A0" points="495.0,267.3 500.1,270.7 503.4,279.2 510.2,285.9 517.0,287.6 523.7,291.0 520.3,299.4 517.0,304.5 511.9,302.8 505.1,296.1 501.8,299.4 500.9,309.6 505.1,312.9 511.9,309.6 517.0,312.9 515.3,323.1 508.5,329.8 505.1,337.9 495.0,337.9"/>
<polygon fill="#E6F5A0" points="517.0,337.9 520.3,329.8 528.8,326.5 533.9,329.8 531.3,337.9"/>
<polygon fill="#F0F064" points="495.0,274.1 500.1,275.8 502.6,284.2 501.8,292.7 503.4,299.4 500.9,309.6 505.1,314.6 503.4,321.4 506.8,328.1 503.4,337.9 495.0,337.9"/>
<polygon fill="#F0F064" points="572.7,242.0 584.5,242.0 582.8,244.0 576.1,243.7"/>
<polygon fill="#E6DC32" points="495.0,280.9 499.2,282.5 498.4,292.7 500.1,309.6 498.4,321.4 495.0,323.1"/>
<polygon fill="#E6AF2D" points="495.0,297.7 497.5,299.4 498.4,312.9 500.9,321.4 505.1,326.5 506.8,333.2 505.1,337.9 495.0,337.9"/>
<polygon fill="#F08228" points="495.0,321.4 497.5,323.1 501.8,328.1 502.6,334.9 501.8,337.9 495.0,337.9"/>
<polygon fill="#A0E632" points="500.9,305.3 505.1,301.1 510.2,299.4 511.0,304.5 506.8,308.7 502.6,309.6"/>
<polygon fill="#00DC00" points="503.4,306.2 506.0,303.1 506.5,307.0"/>
<polygon fill="#00DC00" points="495.0,247.1 500.1,246.2 500.1,249.6 495.0,250.4"/>
<polygon fill="#00DC00" points="508.2,277.5 511.0,273.2 516.1,272.7 519.0,277.5 517.0,284.2 511.9,285.6 508.9,282.5"/>
<polygon fill="#00DC00" points="528.8,282.5 534.7,273.2 539.3,274.1 540.6,278.3 537.2,287.6 534.7,292.7 533.0,299.4 531.3,306.2 527.9,316.3 523.7,322.2 520.3,319.7 520.3,309.6 522.0,299.4 525.4,292.7"/>
<polygon fill="#00DC00" points="538.1,316.3 540.6,309.6 545.7,303.7 551.6,301.1 554.1,306.2 553.3,314.6 550.7,323.1 545.7,329.8 542.3,337.9 538.1,337.9 537.2,326.5"/>
<polygon fill="#00DC00" points="555.8,326.5 559.2,314.6 565.9,304.5 570.2,302.0 572.7,306.2 571.9,314.6 569.3,323.1 565.9,331.5 562.6,337.9 555.8,337.9"/>
<polygon fill="#00DC00" points="565.1,292.7 568.5,289.3 574.4,288.5 578.6,289.3 576.1,292.7 571.9,296.1 569.3,299.4 566.8,297.7"/>
<polygon fill="#00DC00" points="579.5,314.6 581.1,302.8 587.9,296.1 593.0,292.7 596.4,297.7 596.4,309.6 593.0,316.3 596.4,321.4 594.7,329.8 589.6,337.9 576.1,337.9 577.8,326.5"/>
<polygon fill="#00DC00" points="604.8,309.6 606.5,299.4 611.6,294.4 618.0,293.5 618.0,321.4 613.2,319.7 608.2,316.3"/>
<polygon fill="#00DC00" points="594.7,337.9 599.7,334.1 608.2,334.9 611.6,337.9"/>
<polygon fill="#00DC00" points="560.0,271.1 565.9,271.1 565.9,272.4 560.0,272.4"/>
<polygon fill="#00DC00" points="601.8,282.5 605.6,282.5 605.6,283.7 601.8,283.7"/>
<polygon fill="#00B400" points="511.6,279.2 513.9,275.4 516.6,279.2 514.4,283.4"/>
<polygon fill="#00B400" points="523.7,309.6 525.4,301.1 529.6,296.1 531.3,300.3 528.8,307.9 525.4,312.9"/>
<polygon fill="#00B400" points="540.6,318.0 544.0,309.6 549.1,305.3 550.7,309.6 548.2,318.0 544.8,323.1 541.5,323.1"/>
<polygon fill="#00B400" points="559.2,324.8 562.6,314.6 567.6,308.7 570.2,312.1 567.6,321.4 564.3,328.1 560.0,330.7"/>
<polygon fill="#00B400" points="584.5,306.2 589.6,297.7 594.7,300.3 594.7,307.9 591.3,312.9 587.1,311.3"/>
<polygon fill="#00B400" points="580.3,329.8 583.7,319.7 589.6,315.5 593.0,318.9 592.1,326.5 587.9,333.2 582.0,334.9"/>
<polygon fill="#00B400" points="609.9,309.6 611.6,302.0 615.8,300.3 618.0,302.8 618.0,316.3 613.2,314.6"/>
<polygon fill="#008200" points="542.8,316.3 545.3,311.3 547.0,313.8 545.3,318.9"/>
<polygon fill="#008200" points="561.7,323.1 565.1,315.5 567.6,314.6 567.3,319.7 564.3,325.6"/>
<polygon fill="#008200" points="582.8,328.1 586.2,322.2 589.6,321.4 589.6,326.5 586.2,331.5"/>
<polygon fill="#1E3CFF" points="581.1,329.8 582.8,327.8 585.4,330.2 582.8,333.2"/>
</svg>
<svg x="120" y="338" width="125" height="96" viewBox="120 338 125 96">
<rect x="120" y="338" width="125" height="96" fill="#FF0000"/>
<polygon fill="#FF5500" points="121.7,338.0 153.8,338.0 152.9,346.4 155.5,354.9 158.9,359.1 163.9,356.6 166.5,351.5 172.4,348.1 174.1,356.6 169.0,363.3 162.2,368.4 160.5,374.3 155.5,375.5 150.4,371.8 145.3,366.7 140.3,365.9 138.6,360.0 135.2,356.6 128.4,354.9 121.7,356.6"/>
<polygon fill="#FF5500" points="182.5,338.0 245.0,338.0 245.0,433.9 219.7,433.9 214.6,425.8 212.1,419.1 207.8,412.3 201.1,405.6 192.6,402.2 187.6,393.7 185.9,388.7 190.9,383.6 194.3,375.2 192.6,368.4 187.6,371.8 184.2,378.5 177.4,380.2 174.1,373.5 175.7,368.4 180.8,363.3 184.2,356.6 185.0,348.1"/>
<polygon fill="#FF5500" points="160.5,392.1 163.9,386.1 170.7,383.9 174.9,388.7 173.2,396.3 167.3,400.2 161.4,398.0"/>
<polygon fill="#FF5500" points="164.3,408.9 169.0,403.9 177.4,402.2 181.7,407.3 179.1,414.0 172.4,417.4 165.6,415.7"/>
<polygon fill="#FF5500" points="183.3,419.1 187.6,414.9 192.6,412.3 192.6,419.1 187.6,421.6"/>
<polygon fill="#FF5500" points="123.4,377.7 128.4,374.3 133.5,373.5 132.7,378.5 126.8,380.2"/>
<polygon fill="#FF5500" points="167.3,338.0 175.7,338.0 172.4,343.1 168.1,342.2"/>
<polygon fill="#F08228" points="127.6,341.4 131.8,338.0 136.9,339.7 136.0,346.4 131.8,349.0 128.1,346.4"/>
<polygon fill="#F08228" points="141.1,349.8 145.3,349.0 147.9,354.9 147.0,365.0 142.0,363.3 141.1,356.6"/>
<polygon fill="#F08228" points="156.3,370.1 159.7,363.3 163.1,361.6 163.9,367.6 160.5,374.3 156.3,375.2"/>
<polygon fill="#F08228" points="164.8,353.2 167.3,351.5 169.0,354.9 167.0,357.4"/>
<polygon fill="#F08228" points="178.3,371.8 182.5,368.4 186.7,369.2 184.2,374.3 180.0,375.5"/>
<polygon fill="#F08228" points="190.9,365.0 194.3,356.6 201.1,349.8 207.8,338.0 219.7,338.0 224.7,348.1 231.5,353.2 238.2,363.3 245.0,365.0 245.0,387.0 238.2,393.7 245.0,398.8 245.0,425.8 234.9,429.2 224.7,425.8 214.6,420.8 207.8,412.3 204.5,405.6 211.2,397.1 204.5,393.7 196.0,395.4 190.9,392.1 194.3,385.3 199.4,376.9 196.0,370.1"/>
<polygon fill="#E6AF2D" points="197.7,360.0 202.8,353.2 209.5,344.8 212.1,338.0 217.1,338.0 218.0,348.1 221.4,354.9 228.1,354.9 230.6,361.6 238.2,366.7 245.0,370.1 245.0,384.5 236.6,387.0 231.5,392.1 221.4,390.4 214.6,385.3 207.8,381.9 201.1,380.2 199.4,371.8 201.1,365.0"/>
<polygon fill="#E6AF2D" points="204.5,407.3 211.2,404.7 219.7,408.9 228.1,412.3 238.2,405.6 245.0,404.7 245.0,417.4 236.6,417.4 224.7,415.7 214.6,412.3"/>
<polygon fill="#E6DC32" points="205.3,353.2 208.7,343.1 212.1,339.7 212.6,348.1 209.5,354.9"/>
<polygon fill="#E6DC32" points="218.0,366.7 220.5,360.0 225.6,359.1 226.8,366.7 223.0,372.6 219.3,371.8"/>
<polygon fill="#E6DC32" points="204.5,377.7 209.5,376.0 213.8,378.5 207.8,379.9"/>
<polygon fill="#E6DC32" points="219.7,388.7 228.1,387.8 227.3,390.0 220.5,390.4"/>
<polygon fill="#E6DC32" points="234.9,371.8 243.3,370.9 244.2,373.5 236.6,374.3"/>
<polygon fill="#E6DC32" points="236.6,410.6 241.6,408.1 245.0,408.1 245.0,415.7 238.2,414.9"/>
<polygon fill="#FF0000" points="234.9,358.3 239.1,354.9 245.0,356.6 245.0,363.3 238.2,363.3"/>
<polygon fill="#FF0000" points="219.7,341.4 223.0,338.0 228.1,338.0 228.1,343.1 223.0,344.8"/>
<polygon fill="#FF0000" points="238.2,382.8 245.0,382.3 245.0,384.5 239.1,385.0"/>
<polygon fill="#FF5500" points="217.1,401.9 223.0,396.3 233.2,395.4 239.1,401.3 233.2,407.6 223.0,408.6"/>
<polygon fill="#FF0000" points="220.0,401.9 224.7,398.0 232.3,397.5 236.9,401.5 231.8,405.6 224.4,405.9"/>
<polygon fill="#CC0000" points="223.9,401.9 228.1,400.2 232.3,401.7 228.1,403.5"/>
<polygon fill="#CC0000" points="121.7,381.1 130.1,383.6 136.9,381.1 142.0,382.8 140.3,388.7 143.6,395.4 140.3,400.5 130.1,398.8 125.1,395.4 121.7,392.1"/>
<polygon fill="#CC0000" points="126.8,365.0 131.8,363.7 133.5,365.9 129.3,367.6"/>
<polygon fill="#CC0000" points="150.4,388.7 152.1,387.3 153.4,389.0 151.8,390.7"/>
<polygon fill="#CC0000" points="153.8,419.1 158.9,420.8 163.9,425.8 174.1,424.1 187.6,424.1 196.0,422.5 196.9,433.9 167.3,433.9 162.2,429.2 155.5,424.1"/>
<polygon fill="#CC0000" points="121.7,405.6 126.8,408.9 130.1,417.4 126.8,425.8 121.7,427.5"/>
<polygon fill="#9B0000" points="172.4,430.9 180.8,430.1 190.9,429.2 192.6,433.9 173.2,433.9"/>
</svg>
<svg x="245" y="338" width="125" height="96" viewBox="245 338 125 96">
<rect x="245" y="338" width="125" height="96" fill="#FF0000"/>
<polygon fill="#CC0000" points="275.4,338.0 370.0,338.0 370.0,404.7 363.2,405.6 348.0,407.3 336.2,407.3 326.1,405.6 319.3,403.0 315.9,400.5 309.2,399.7 302.4,396.3 297.4,388.7 294.0,385.3 291.5,378.5 288.9,370.1 283.9,363.3 278.8,358.3 275.4,351.5"/>
<polygon fill="#CC0000" points="346.4,410.6 370.0,408.9 370.0,433.9 350.6,433.9 353.1,428.4 363.2,425.8 363.2,422.5 353.1,417.4"/>
<polygon fill="#CC0000" points="277.1,393.7 279.6,391.7 283.0,388.7 284.7,390.4 281.3,394.6 278.8,397.5"/>
<polygon fill="#CC0000" points="297.4,402.2 300.7,398.0 303.3,403.0 300.7,408.1 297.7,407.3"/>
<polygon fill="#CC0000" points="261.9,427.5 267.0,423.3 270.3,425.8 270.3,433.9 261.9,433.9"/>
<polygon fill="#FF5500" points="354.8,419.1 361.6,418.2 368.3,419.4 361.6,421.1"/>
<polygon fill="#FF5500" points="245.0,361.6 249.2,363.3 250.9,370.1 248.4,378.5 245.0,380.2"/>
<polygon fill="#FF5500" points="248.4,354.9 249.7,352.4 251.4,354.9 249.7,356.9"/>
<polygon fill="#FF5500" points="245.0,386.1 255.1,385.3 268.6,386.1 272.9,390.4 272.0,402.2 274.6,408.9 283.9,400.5 290.6,397.1 294.0,400.5 292.3,408.9 287.2,414.0 282.2,419.1 275.4,422.5 278.8,427.5 282.2,433.9 273.7,433.9 274.6,425.8 270.3,419.1 265.3,422.5 260.2,427.5 256.8,433.9 245.0,433.9"/>
<polygon fill="#FF5500" points="295.3,420.8 297.7,418.2 302.4,418.2 303.3,424.1 301.6,430.1 296.5,430.1"/>
<polygon fill="#F08228" points="245.0,388.7 253.4,387.8 267.0,388.3 270.3,393.7 268.6,405.6 265.3,414.0 260.2,420.8 255.1,425.8 250.1,431.8 245.0,432.6"/>
<polygon fill="#F08228" points="272.9,412.3 278.8,405.6 285.5,400.5 291.5,399.7 290.9,407.3 285.5,414.0 278.8,418.2 274.6,417.4"/>
<polygon fill="#F08228" points="275.4,433.9 277.9,429.2 281.3,433.9"/>
<polygon fill="#F08228" points="245.0,365.9 247.5,367.6 247.5,373.5 245.0,374.3"/>
<polygon fill="#E6AF2D" points="245.0,405.6 250.1,400.5 256.8,393.7 263.6,390.4 267.8,395.4 267.0,405.6 261.9,414.0 255.1,419.1 248.4,420.8 245.0,420.8"/>
<polygon fill="#E6AF2D" points="279.6,410.6 284.7,405.6 288.1,405.6 286.4,410.6 281.3,414.0"/>
<polygon fill="#E6DC32" points="245.0,408.9 251.8,409.8 256.0,413.2 251.8,416.5 245.0,416.0"/>
</svg>
<svg x="370" y="338" width="125" height="96" viewBox="370 338 125 96">
<rect x="370" y="338" width="125" height="96" fill="#CC0000"/>
<polygon fill="#FF0000" points="419.8,338.0 495.0,338.0 495.0,377.7 491.6,376.0 486.6,371.8 479.8,368.4 473.0,363.3 468.0,359.1 454.5,357.9 440.9,356.9 434.2,354.0 428.3,354.0 430.0,347.3 427.4,344.8 422.4,342.2"/>
<polygon fill="#FF0000" points="370.0,408.9 376.8,408.9 381.0,412.3 381.8,416.5 378.4,420.8 373.4,423.3 370.0,424.1"/>
<polygon fill="#FF0000" points="387.7,432.6 392.0,430.1 400.4,429.2 406.3,433.9 387.7,433.9"/>
<polygon fill="#FF5500" points="466.3,338.0 495.0,338.0 495.0,348.1 488.2,344.8 479.8,341.4 471.4,339.7"/>
<polygon fill="#F08228" points="474.7,338.0 486.6,338.0 486.6,340.5 481.5,342.2 475.6,340.0"/>
<polygon fill="#F08228" points="490.8,346.4 495.0,345.6 495.0,354.9 491.6,354.0"/>
<polygon fill="#9B0000" points="379.3,425.8 382.7,424.1 384.4,425.8 381.0,428.4"/>
</svg>
<svg x="495" y="338" width="125" height="96" viewBox="495 338 125 96">
<rect x="495" y="338" width="125" height="96" fill="#E6DC32"/>
<polygon fill="#F0F064" points="523.7,338.0 530.5,343.1 537.2,349.8 544.0,348.1 549.1,356.6 553.3,366.7 552.4,371.8 555.8,374.3 559.2,368.4 557.5,358.3 560.9,351.5 565.9,349.8 572.7,354.9 579.5,358.3 586.2,361.6 591.3,368.4 596.4,375.2 604.8,378.5 611.6,381.9 618.0,382.8 618.0,338.0"/>
<polygon fill="#F0F064" points="609.9,393.7 618.0,388.7 618.0,408.9 613.2,405.6"/>
<polygon fill="#F0F064" points="609.9,412.3 613.2,407.3 616.6,412.3 613.2,419.1"/>
<polygon fill="#E6F5A0" points="533.0,338.0 538.9,343.1 545.7,343.1 552.4,346.4 559.2,348.1 565.9,346.4 572.7,351.5 579.5,354.9 582.8,348.1 587.1,344.8 589.6,351.5 588.8,360.0 591.3,366.7 596.4,371.8 603.1,374.3 611.6,376.9 618.0,378.5 618.0,338.0"/>
<polygon fill="#A0E632" points="535.5,338.0 545.7,339.7 554.1,342.2 562.6,344.8 569.3,343.1 571.9,348.1 574.4,353.2 579.5,351.5 582.8,344.8 586.2,342.2 589.6,346.4 590.4,356.6 593.0,363.3 598.0,368.4 604.8,371.8 613.2,373.5 618.0,374.3 618.0,338.0"/>
<polygon fill="#00DC00" points="571.0,338.0 618.0,338.0 618.0,368.4 611.6,370.1 609.9,365.0 604.8,366.7 599.7,365.0 594.7,361.6 591.3,354.9 592.1,348.1 589.6,343.1 584.5,341.4 580.3,348.1 576.1,349.8 572.7,344.8"/>
<polygon fill="#A0E632" points="603.1,368.4 606.5,363.3 611.6,361.6 613.2,366.7 609.9,371.8"/>
<polygon fill="#A0E632" points="608.2,360.0 611.6,356.6 613.2,360.0 610.7,362.5"/>
<polygon fill="#00B400" points="589.6,338.0 606.5,338.0 604.8,344.8 603.1,351.5 596.4,354.9 593.0,353.2 594.7,346.4 592.1,341.4"/>
<polygon fill="#00B400" points="594.7,360.0 599.7,354.9 604.0,356.6 603.1,361.6 598.0,363.3"/>
<polygon fill="#008200" points="594.7,338.0 604.0,338.0 603.1,343.1 599.7,347.3 596.4,344.8"/>
<polygon fill="#1E3CFF" points="596.0,358.3 598.0,356.2 598.9,360.0 596.7,360.8"/>
<polygon fill="#E6AF2D" points="495.0,338.0 508.5,338.0 513.6,343.1 520.3,344.8 528.8,351.5 533.9,358.3 540.6,356.6 545.7,360.0 550.7,368.4 555.8,375.2 560.0,371.8 559.2,363.3 560.9,356.6 564.3,353.2 571.0,356.6 579.5,360.0 586.2,365.0 591.3,371.8 594.7,378.5 603.1,381.9 608.2,388.7 609.9,397.1 606.5,405.6 603.1,414.0 606.5,422.5 613.2,425.8 618.0,427.5 618.0,433.9 495.0,433.9"/>
<polygon fill="#F08228" points="495.0,338.0 501.8,338.0 506.8,343.1 511.9,349.8 520.3,354.9 528.8,360.0 535.5,363.3 544.0,363.3 545.7,368.4 550.7,376.0 557.5,381.1 564.3,381.9 565.9,388.7 571.0,390.4 572.7,385.3 577.8,381.9 584.5,376.9 591.3,380.2 596.4,387.0 601.4,393.7 604.8,402.2 603.1,408.9 599.7,417.4 603.1,422.5 609.9,425.8 618.0,428.4 618.0,433.9 495.0,433.9"/>
<polygon fill="#FF5500" points="495.0,350.7 501.8,353.2 508.5,358.3 517.0,363.3 525.4,367.6 531.3,371.8 538.9,370.9 545.7,376.9 552.4,381.9 562.6,382.8 564.3,390.4 567.6,398.8 571.0,405.6 579.5,408.9 586.2,412.3 593.0,415.7 595.5,422.5 596.4,433.9 495.0,433.9"/>
<polygon fill="#FF5500" points="577.8,390.4 582.8,385.0 588.2,390.4 586.2,396.3 581.1,398.8 578.6,395.4"/>
<polygon fill="#FF5500" points="597.2,406.4 601.4,405.6 601.8,408.1 597.7,408.6"/>
<polygon fill="#FF5500" points="573.5,395.4 576.1,392.1 579.5,395.4 578.6,399.7 574.4,399.7"/>
<polygon fill="#FF0000" points="495.0,354.9 503.4,358.3 511.9,363.3 520.3,368.4 525.4,374.3 522.9,379.4 528.8,381.1 537.2,380.2 545.7,382.8 550.7,387.0 549.1,392.1 544.0,396.3 550.7,400.5 559.2,401.3 561.7,407.3 569.3,409.8 576.1,413.2 582.8,419.1 587.9,425.8 589.6,433.9 495.0,433.9"/>
<polygon fill="#CC0000" points="495.0,388.7 501.8,391.2 506.0,395.4 505.1,400.5 513.6,403.9 520.3,407.3 522.0,412.3 532.2,414.0 544.0,417.4 554.1,420.8 562.6,424.1 567.6,429.2 569.3,433.9 495.0,433.9"/>
</svg>
<svg x="183" y="338" width="125" height="96" viewBox="183 338 125 96">
<rect x="183" y="338" width="125" height="96" fill="#FF0000"/>
<polygon fill="#CC0000" points="275.1,338.0 308.0,338.0 308.0,393.7 301.2,388.7 294.5,383.6 291.1,375.2 286.0,366.7 279.3,358.3 275.9,348.1"/>
<polygon fill="#FF5500" points="183.0,338.0 219.3,338.0 217.6,344.8 223.5,348.1 232.0,346.4 237.1,351.5 233.7,360.0 238.7,363.3 247.2,361.6 250.6,366.7 248.9,375.2 242.1,381.9 237.1,384.5 242.1,386.1 253.9,385.3 264.1,384.5 270.8,388.7 272.5,395.4 270.8,405.6 267.5,414.0 262.4,419.1 255.6,422.5 250.6,429.2 242.1,433.9 216.8,433.9 215.1,425.8 208.3,419.1 201.6,412.3 193.1,405.6 188.1,395.4 184.7,388.7 183.0,385.3"/>
<polygon fill="#FF5500" points="271.7,415.7 275.1,407.3 282.7,400.5 291.1,397.1 294.5,402.2 291.1,410.6 284.4,417.4 277.6,420.8 273.4,419.9"/>
<polygon fill="#FF5500" points="294.5,422.5 297.9,418.2 302.1,418.7 302.1,427.5 297.9,430.1 294.8,428.4"/>
<polygon fill="#FF5500" points="199.0,433.9 201.6,425.8 206.6,422.5 210.0,427.5 210.0,433.9"/>
<polygon fill="#FF5500" points="183.3,419.1 187.6,414.9 192.6,412.3 192.6,419.1 187.6,421.6"/>
<polygon fill="#FF0000" points="183.0,354.9 185.5,354.0 187.2,358.3 184.7,361.6 183.0,361.6"/>
<polygon fill="#FF0000" points="216.8,338.0 222.7,338.0 221.9,343.9 218.5,344.8"/>
<polygon fill="#CC0000" points="183.0,425.8 189.8,423.3 196.5,425.0 197.4,433.9 183.0,433.9"/>
<polygon fill="#CC0000" points="262.4,429.2 265.8,424.1 270.0,425.0 270.8,430.9 267.5,433.9 263.2,433.9"/>
<polygon fill="#CC0000" points="277.6,393.7 280.1,391.2 282.7,394.6 280.1,397.1"/>
<polygon fill="#CC0000" points="297.9,405.6 301.2,400.5 304.6,402.2 301.2,408.1"/>
<polygon fill="#9B0000" points="184.7,430.1 189.8,429.2 191.4,432.6 186.4,433.9"/>
<polygon fill="#F08228" points="217.6,338.0 215.9,344.8 221.9,349.8 230.3,348.1 234.5,352.4 232.0,360.0 237.9,365.0 245.5,363.3 248.0,367.6 246.3,374.3 240.4,380.2 233.7,382.8 238.7,387.0 250.6,387.0 257.3,387.8 265.8,387.0 270.0,392.1 270.8,398.8 268.3,408.9 264.1,415.7 257.3,419.9 253.9,422.5 252.3,433.9 215.1,433.9 216.8,422.5 213.4,417.4 206.6,412.3 202.4,405.6 203.3,398.8 198.2,395.4 191.4,397.1 184.7,393.7 186.4,387.0 191.4,380.2 197.4,371.8 199.0,365.0 194.8,360.0 189.8,353.2 191.4,348.1 188.1,343.1 189.8,338.0"/>
<polygon fill="#F08228" points="183.0,367.6 188.1,366.7 191.4,371.8 188.1,377.7 183.0,378.5"/>
<polygon fill="#F08228" points="274.2,414.0 277.6,408.1 284.4,403.0 290.3,400.8 291.1,404.7 286.9,410.6 281.0,415.7 275.9,417.4"/>
<polygon fill="#E6AF2D" points="201.6,338.0 211.7,338.0 212.6,344.8 216.8,351.5 223.5,353.2 228.6,356.6 228.6,361.6 235.4,366.7 243.8,366.7 245.8,370.9 242.1,376.0 233.7,378.5 226.9,380.2 230.3,385.3 226.9,392.1 220.2,393.7 215.1,388.7 208.3,385.3 201.6,383.6 199.0,378.5 203.3,371.8 205.0,365.0 199.9,360.0 196.5,354.9 198.2,346.4"/>
<polygon fill="#E6AF2D" points="205.0,404.7 211.7,403.0 216.8,405.6 221.9,410.6 230.3,412.3 238.7,405.6 250.6,403.9 255.6,397.1 260.7,392.1 267.5,392.9 268.3,400.5 264.1,408.9 257.3,415.7 250.6,417.4 240.4,417.4 232.0,415.7 223.5,416.5 215.1,412.3 208.3,408.9"/>
<polygon fill="#E6AF2D" points="278.4,410.6 282.7,406.4 286.9,404.7 286.0,408.1 281.8,412.3"/>
<polygon fill="#E6DC32" points="205.0,354.0 208.3,343.1 211.7,340.5 212.6,348.1 208.3,356.6"/>
<polygon fill="#E6DC32" points="217.6,366.7 220.2,359.1 225.2,358.3 226.6,365.9 222.7,372.6 218.8,371.8"/>
<polygon fill="#E6DC32" points="204.1,377.7 210.0,376.0 214.2,378.5 208.3,379.9"/>
<polygon fill="#E6DC32" points="219.3,388.7 227.8,387.8 226.9,390.4 220.2,390.7"/>
<polygon fill="#E6DC32" points="234.5,371.8 242.1,370.9 243.0,373.5 236.2,374.3"/>
<polygon fill="#E6DC32" points="235.4,410.6 242.1,407.3 250.6,408.9 255.6,413.2 250.6,415.7 240.4,416.0"/>
<polygon fill="#E6DC32" points="210.9,406.4 215.9,406.4 215.9,407.6 210.9,407.6"/>
<polygon fill="#FF5500" points="217.6,401.9 223.5,396.3 233.7,395.4 239.6,401.3 233.7,407.6 223.5,408.6"/>
<polygon fill="#FF0000" points="220.5,401.9 225.2,398.0 232.8,397.5 237.4,401.5 232.3,405.6 224.9,405.9"/>
<polygon fill="#CC0000" points="224.4,401.9 228.6,400.2 232.8,401.7 228.6,403.5"/>
</svg>
<svg x="120" y="434" width="125" height="96" viewBox="120 434 125 96">
<rect x="120" y="434" width="125" height="96" fill="#CC0000"/>
<polygon fill="#FF0000" points="121.7,434.0 169.0,434.0 172.4,439.1 162.2,444.1 150.4,447.5 140.3,450.9 131.8,457.6 121.7,452.6"/>
<polygon fill="#FF0000" points="199.4,434.0 245.0,434.0 245.0,466.1 196.0,466.1 196.9,459.3 194.3,452.6 199.4,444.1"/>
<polygon fill="#9B0000" points="170.7,434.0 190.9,434.0 189.3,440.8 182.5,445.8 175.7,442.4"/>
<polygon fill="#FF5500" points="216.3,440.8 221.4,434.0 238.2,434.0 241.6,440.8 236.6,452.6 229.8,459.3 224.7,454.3 219.7,447.5"/>
<polygon fill="#F08228" points="221.4,437.4 225.6,434.0 231.5,434.8 228.1,440.8 223.0,442.4"/>
<polygon fill="#F08228" points="233.2,450.9 237.4,445.8 240.8,447.5 238.2,454.3 234.9,456.8"/>
<polygon fill="#F08228" points="229.8,461.0 234.9,457.6 236.6,461.0 232.3,463.6"/>
<polygon fill="#CC0000" points="201.1,444.1 207.8,439.1 209.5,447.5 204.5,452.6"/>
</svg>
<svg x="245" y="434" width="125" height="96" viewBox="245 434 125 96">
<rect x="245" y="434" width="125" height="96" fill="#FF0000"/>
<polygon fill="#CC0000" points="332.8,439.1 339.6,434.0 370.0,434.0 370.0,484.7 363.2,486.4 354.8,483.0 348.0,477.9 349.7,471.2 343.0,466.1 336.2,459.3 331.1,450.9"/>
<polygon fill="#CC0000" points="309.2,437.4 312.6,434.0 317.6,435.7 317.6,441.6 312.6,444.1"/>
<polygon fill="#CC0000" points="265.3,449.2 268.6,444.1 271.7,448.4 268.6,453.4"/>
<polygon fill="#CC0000" points="256.0,467.8 263.6,466.1 275.4,464.4 283.9,467.8 295.7,472.9 299.1,477.9 297.4,484.7 302.4,491.4 299.1,498.2 288.9,501.6 283.9,506.6 287.2,513.4 295.7,515.1 300.7,521.8 300.7,528.3 256.0,528.3"/>
<polygon fill="#CC0000" points="272.0,464.4 275.4,459.3 283.9,454.3 287.2,456.0 285.5,462.7 278.8,467.8"/>
<polygon fill="#CC0000" points="319.3,501.6 326.1,499.9 336.2,500.7 332.8,508.3 327.8,513.4 321.0,511.7"/>
<polygon fill="#CC0000" points="245.0,459.3 248.4,462.7 245.0,465.2"/>
<polygon fill="#CC0000" points="245.0,440.8 248.4,439.9 250.9,442.4 247.5,444.1"/>
<polygon fill="#9B0000" points="364.9,461.0 370.0,454.3 370.0,467.8 366.6,466.9"/>
<polygon fill="#9B0000" points="283.9,496.5 290.6,490.6 297.4,495.7 292.3,500.7 286.4,500.7"/>
<polygon fill="#9B0000" points="256.0,518.5 267.0,516.8 278.8,518.5 280.5,525.2 275.4,528.3 256.0,528.3"/>
<polygon fill="#FF0000" points="300.7,516.8 305.8,511.7 310.9,513.4 312.6,520.1 309.2,524.4 303.3,523.5"/>
<polygon fill="#FF0000" points="263.9,478.8 267.8,477.1 268.6,479.3 264.9,481.0"/>
<polygon fill="#FF5500" points="272.0,439.1 275.4,434.0 285.5,434.0 285.5,442.4 280.5,449.2 275.4,445.8"/>
<polygon fill="#FF5500" points="290.6,447.5 294.0,440.8 299.1,434.0 303.3,439.1 302.4,447.5 299.1,454.3 300.7,461.0 299.1,467.8 292.3,468.6 289.8,464.4 294.0,456.0"/>
<polygon fill="#FF5500" points="309.2,459.3 312.6,452.6 319.3,445.8 323.5,445.0 323.5,454.3 319.3,462.7 314.3,466.9 310.0,464.4"/>
<polygon fill="#FF5500" points="322.7,474.5 326.1,470.3 332.8,468.6 337.9,472.9 334.5,478.8 329.5,481.3 329.5,486.4 327.8,494.8 321.0,496.5 315.9,491.4 317.6,487.2 323.5,483.8"/>
<polygon fill="#FF5500" points="331.1,516.8 336.2,506.6 339.6,498.2 338.8,491.4 344.7,488.1 353.1,488.9 358.2,493.1 363.2,498.2 370.0,494.8 370.0,528.3 332.0,528.3"/>
<polygon fill="#FF5500" points="257.7,449.2 259.9,448.4 259.9,459.3 258.2,459.3"/>
<polygon fill="#F08228" points="275.4,437.4 277.9,434.0 281.3,434.0 280.5,440.8 277.9,442.4"/>
<polygon fill="#F08228" points="336.2,513.4 340.4,507.5 346.4,506.6 348.9,510.9 346.4,516.8 341.3,518.5 337.1,517.6"/>
<polygon fill="#F08228" points="359.9,509.2 363.2,504.9 366.6,505.8 366.6,513.4 362.4,515.1"/>
<polygon fill="#FF0000" points="354.0,499.9 355.6,498.2 356.8,500.7 355.1,501.9"/>
</svg>
<svg x="370" y="434" width="125" height="96" viewBox="370 434 125 96">
<rect x="370" y="434" width="125" height="96" fill="#CC0000"/>
<polygon fill="#FF0000" points="381.8,439.1 386.9,434.8 400.4,434.0 407.2,435.7 403.8,440.8 395.3,443.3 385.2,442.4"/>
<polygon fill="#FF0000" points="383.9,474.5 386.9,469.5 392.0,467.8 397.0,472.0 395.3,479.6 388.6,479.6 384.4,477.9"/>
<polygon fill="#FF0000" points="437.6,483.0 442.6,478.8 449.4,481.3 456.1,489.7 459.5,496.5 454.5,499.0 446.0,497.3 440.1,493.1"/>
<polygon fill="#FF0000" points="370.0,486.4 372.5,489.7 375.1,501.6 380.1,506.6 385.2,510.0 386.0,528.3 370.0,528.3"/>
<polygon fill="#FF0000" points="403.8,513.4 408.9,510.9 413.9,513.4 413.1,521.8 407.2,528.3 402.9,528.3"/>
<polygon fill="#FF0000" points="435.0,523.5 440.9,518.5 449.4,517.6 454.5,523.5 461.2,528.3 435.9,528.3"/>
<polygon fill="#FF5500" points="370.0,501.6 371.7,503.3 371.7,516.8 370.0,516.8"/>
<polygon fill="#9B0000" points="370.0,448.4 376.8,447.5 386.9,450.9 392.8,454.3 386.9,457.6 378.4,461.0 375.1,466.9 370.0,468.6"/>
<polygon fill="#9B0000" points="399.6,460.2 405.5,458.5 409.7,461.0 408.9,465.2 403.8,462.7"/>
<polygon fill="#9B0000" points="411.4,466.1 415.6,464.4 419.0,466.1 414.8,467.8"/>
<polygon fill="#9B0000" points="423.2,504.9 427.4,501.6 437.6,499.9 446.0,503.3 461.2,504.9 471.4,505.8 484.9,504.1 495.0,504.9 495.0,528.3 488.2,528.3 479.8,523.5 471.4,518.5 464.6,516.8 457.8,513.4 447.7,510.9 437.6,510.9 432.5,515.1 427.4,513.4 423.2,510.0"/>
<polygon fill="#9B0000" points="387.7,528.3 391.1,520.1 394.5,515.1 397.0,521.8 397.9,528.3"/>
</svg>
<svg x="495" y="434" width="125" height="96" viewBox="495 434 125 96">
<rect x="495" y="434" width="125" height="96" fill="#CC0000"/>
<polygon fill="#FF0000" points="568.5,434.0 587.9,434.0 586.2,450.9 584.5,467.8 582.0,484.7 582.8,501.6 582.0,513.4 586.2,528.3 576.9,528.3 579.5,515.1 574.4,501.6 570.2,494.8 569.3,467.8"/>
<polygon fill="#FF5500" points="587.1,434.0 618.0,434.0 618.0,528.3 588.8,528.3 586.2,515.1 583.7,501.6 582.5,484.7 584.5,467.8 587.1,450.9"/>
<polygon fill="#F08228" points="604.8,434.0 618.0,434.0 618.0,528.3 599.7,528.3 604.8,521.8 611.6,516.8 604.8,511.7 604.8,504.9 611.6,496.5 618.0,494.8 618.0,484.7 613.2,476.2 604.8,469.5 602.3,464.4 606.5,457.6 612.4,454.3 611.6,447.5 606.5,440.8"/>
<polygon fill="#E6AF2D" points="609.9,434.0 618.0,434.0 618.0,450.9 614.9,444.1 611.6,439.1"/>
<polygon fill="#E6AF2D" points="610.7,466.1 614.1,464.4 615.3,466.9 612.4,468.6"/>
<polygon fill="#E6AF2D" points="606.5,528.3 609.9,526.1 618.0,526.1 618.0,528.3"/>
<polygon fill="#E6DC32" points="614.1,434.0 618.0,434.0 618.0,445.8 615.3,440.8"/>
<polygon fill="#FF0000" points="593.8,496.5 598.0,491.4 605.6,488.9 604.8,496.5 599.7,502.4 596.4,501.6"/>
<polygon fill="#9B0000" points="495.0,505.8 499.2,506.6 503.4,511.7 511.9,518.5 520.3,525.2 522.9,528.3 495.0,528.3"/>
</svg>
</g>
<line x1="121" x2="618" y1="106.5" y2="106.5" class="gr"/>
<line x1="121" x2="618" y1="180.5" y2="180.5" class="gr"/>
<line x1="121" x2="618" y1="254.5" y2="254.5" class="gr"/>
<line x1="121" x2="618" y1="328.5" y2="328.5" class="gr"/>
<line x1="121" x2="618" y1="402.5" y2="402.5" class="gr"/>
<line x1="121" x2="618" y1="476.5" y2="476.5" class="gr"/>
<line y1="52" y2="528" x1="136.5" x2="136.5" class="gr"/>
<line y1="52" y2="528" x1="196.5" x2="196.5" class="gr"/>
<line y1="52" y2="528" x1="256.5" x2="256.5" class="gr"/>
<line y1="52" y2="528" x1="317.5" x2="317.5" class="gr"/>
<line y1="52" y2="528" x1="377.5" x2="377.5" class="gr"/>
<line y1="52" y2="528" x1="437.5" x2="437.5" class="gr"/>
<line y1="52" y2="528" x1="498.5" x2="498.5" class="gr"/>
<line y1="52" y2="528" x1="559.5" x2="559.5" class="gr"/>
<polyline class="co" points="156.3,52.0 163.9,55.9 175.7,58.4 187.6,61.8 199.4,62.7 211.2,64.4 224.7,66.0 238.2,68.2 245.0,68.9"/>
<polyline class="co" points="240.3,68.6 238.2,72.0 228.1,77.9 219.7,82.1 221.4,88.0 228.1,90.5 236.6,92.2 232.3,98.1 228.1,100.7 225.6,106.6 231.5,107.4 234.9,108.3 233.2,115.0 230.6,120.1"/>
<polyline class="co" points="245.0,66.9 255.1,67.7 265.3,73.6 277.1,74.5 287.2,76.2 295.7,73.6 302.4,69.4 307.5,61.8 315.9,58.4 329.5,57.6 346.4,55.9 359.9,53.4 370.0,52.5"/>
<polyline class="co" points="370.0,86.3 363.2,88.0 356.5,89.7 353.1,94.8 356.5,100.7 359.9,102.4 359.9,114.2 356.5,116.7 346.4,117.6 337.1,122.6 333.7,126.9 337.1,131.1 335.4,137.8 332.8,145.9"/>
<polyline class="co" points="245.0,123.5 250.1,129.4 250.9,132.8 248.4,136.1 245.0,137.0"/>
<polyline class="co" points="248.4,145.9 258.5,144.6 272.0,143.2 281.3,142.6 287.2,136.1 290.6,131.1 293.1,131.9 294.8,136.1 302.4,141.2 312.6,142.9 319.3,143.8 324.4,145.9"/>
<polyline class="co" points="397.9,52.0 403.8,60.1 409.7,68.6 419.0,72.0 429.1,79.6 431.7,86.3 437.6,89.7 446.9,92.2 452.8,99.0 453.6,104.9 459.5,110.0 471.4,110.0 475.6,114.2 478.1,117.6 488.2,121.3 495.0,121.8"/>
<polyline class="co" points="409.7,68.6 403.8,66.9 393.6,66.9 392.0,70.3 392.8,75.3 383.5,77.0 381.8,82.1 375.1,84.6 370.0,86.8"/>
<polyline class="co" points="495.0,122.3 511.9,122.6 520.3,125.2 526.2,124.3 533.9,117.6 540.6,112.8 546.5,114.2 559.2,108.3 562.6,104.9 567.6,106.6 576.1,106.6 584.5,100.7 592.1,93.1"/>
<polyline class="co" points="546.5,114.2 550.7,117.6 555.8,122.6 556.1,129.4 553.3,132.8 552.4,137.8 555.8,140.4 559.2,137.8 563.4,140.4 564.3,142.6 560.0,143.8 558.3,145.9"/>
<polyline class="co" points="600.6,93.6 606.5,95.3 613.2,94.3 620.0,94.3"/>
<polyline class="co" points="151.2,193.3 150.4,201.7 152.1,213.6 155.5,225.4 160.5,237.2 164.3,241.9"/>
<polyline class="co" points="226.4,146.0 229.8,154.4 233.2,164.6 238.2,173.0 243.3,179.8 245.0,184.9"/>
<polyline class="co" points="245.0,185.7 248.4,193.3 251.8,196.7 256.8,189.9 261.9,184.0 266.1,179.8 268.6,173.0 272.0,164.6 275.4,154.4 278.8,153.6 288.9,157.8 294.0,164.6 300.7,169.6 308.3,171.3 312.6,179.8 311.7,189.9 312.6,196.7 315.9,205.1 321.0,213.6 329.5,220.3 336.2,227.1 346.4,232.1 348.0,233.8"/>
<polyline class="co" points="274.6,168.0 277.1,167.1 278.8,173.0 281.3,179.8 283.0,189.9 286.4,201.7 288.1,206.0 285.5,208.5 281.3,204.3 277.9,196.7 277.1,184.9 275.4,174.7 274.6,168.0"/>
<polyline class="co" points="288.9,161.2 294.0,165.4 300.7,171.3 305.0,177.2 304.1,181.5 299.1,182.3 290.6,178.9 284.7,175.6 283.0,171.3 286.4,164.6 288.9,161.2"/>
<polyline class="co" points="277.9,201.7 280.5,208.5 285.5,215.3 288.9,218.6 288.1,216.1 283.0,209.3 279.6,203.4"/>
<polyline class="co" points="300.7,201.7 304.1,205.1 312.6,213.6 319.3,218.6 326.1,225.4 329.5,230.5 324.4,233.8 327.8,240.6"/>
<polyline class="co" points="302.4,203.4 309.2,208.5 315.9,215.3 321.0,222.0"/>
<polyline class="co" points="370.0,162.0 365.8,163.7 363.2,169.6 364.1,179.8 361.6,189.9 363.2,196.7 370.0,200.1"/>
<polyline class="co" points="321.9,146.0 326.1,147.7 332.8,146.0"/>
<polyline class="co" points="370.0,162.9 376.8,162.9 381.8,169.6 388.6,176.4 395.3,179.8 400.4,174.7 405.5,166.3 410.5,162.9 425.7,165.4 432.5,159.5 440.9,164.6 449.4,168.0 454.5,167.1 464.6,170.5 474.7,171.3 481.5,171.3 488.2,175.6 495.0,173.9"/>
<polyline class="co" points="370.0,200.9 375.1,201.7 378.4,208.5 385.2,215.3 387.7,225.4 388.6,230.5 386.0,238.1 393.6,241.9"/>
<polyline class="co" points="495.0,173.0 501.8,171.3 510.2,172.2 513.6,170.5 525.4,171.3 535.5,173.9 544.0,178.9 545.7,182.3 544.0,185.7 549.1,189.1 558.3,190.8 562.6,188.2 567.6,185.7 576.1,185.7 581.1,188.2 579.5,196.7 574.4,205.1 567.6,213.6 565.1,220.3 565.1,227.1 569.3,233.8 577.8,237.2 584.5,241.9"/>
<polyline class="co" points="556.7,146.0 557.5,151.1 562.6,155.3 569.3,158.7 577.8,161.2 583.7,162.9 582.8,166.3 574.4,165.4 568.5,163.7 565.1,171.3 564.3,178.1 560.9,184.9 558.3,190.8"/>
<polyline class="co" points="162.2,242.0 170.7,249.6 179.1,254.7 187.6,257.2 196.0,263.1 204.5,269.9 214.6,277.5 221.4,280.9 228.1,281.7 232.3,285.1 236.6,294.4 241.6,306.2 245.0,312.9"/>
<polyline class="co" points="159.7,258.0 162.2,255.2 165.6,254.7 166.5,258.0 163.9,260.6 160.5,260.2 159.7,258.0"/>
<polyline class="co" points="307.5,242.0 312.6,247.1 317.6,252.1 322.7,258.0 327.8,263.1 330.3,260.6 327.8,257.2 321.0,254.7 317.6,251.3 310.0,242.0"/>
<polyline class="co" points="329.5,242.0 336.2,250.4 343.0,257.2 351.4,264.0 358.2,269.0 364.9,271.6 370.0,273.2"/>
<polyline class="co" points="245.0,314.6 247.5,323.1 250.1,333.2 252.6,337.9"/>
<polyline class="co" points="395.3,242.0 400.4,247.1 409.7,252.1 415.6,258.9 420.7,265.6 427.4,272.4 432.5,279.2 439.3,285.9 446.0,290.1 452.8,292.7 454.5,301.1 457.8,307.9 464.6,314.6 473.0,319.7 478.1,324.8 477.3,329.8 471.4,331.5 464.6,326.5 457.8,319.7 449.4,314.6 440.9,308.7 434.2,301.1 425.7,296.1 415.6,292.7 407.2,289.3 398.7,286.8 390.3,287.6 383.5,291.0 377.6,291.0 372.5,284.2 373.4,277.5 370.0,274.9"/>
<polyline class="co" points="402.9,299.4 407.2,298.6 420.7,300.3 429.1,302.0 430.5,306.2 425.7,307.9 413.9,307.0 405.5,305.3 402.1,302.8 402.9,299.4"/>
<polyline class="co" points="400.4,312.9 408.9,311.3 420.7,313.8 430.8,316.3 444.3,317.2 444.3,319.7 434.2,320.0 420.7,318.9 410.5,318.0 402.9,315.5 400.4,312.9"/>
<polyline class="co" points="380.1,322.2 388.6,320.5 392.8,322.7 390.3,325.6 383.5,327.3 380.1,325.6 380.1,322.2"/>
<polyline class="co" points="414.8,328.1 425.7,329.0 437.6,327.3 447.7,329.0 444.3,333.2 434.2,334.9 424.1,334.9 417.3,332.4 414.8,328.1"/>
<polyline class="co" points="437.6,324.8 449.4,324.8 457.8,328.1 468.0,331.5 478.1,334.1 488.2,337.9"/>
<polyline class="co" points="464.6,329.8 474.7,333.2 479.8,336.6"/>
<polyline class="co" points="586.2,242.0 591.3,247.1 596.4,250.4 593.0,254.7 586.2,257.2 579.5,254.7 573.5,253.0 574.4,257.2 579.5,262.3 584.5,267.3 587.9,273.2 587.9,282.5 582.8,284.2 576.1,286.8 569.3,288.5 562.6,286.8 558.3,286.3 555.0,290.1 557.5,294.4 560.0,299.4 562.6,304.5 562.6,308.7 559.2,309.6 555.0,306.2 554.1,302.0 549.1,301.1 543.1,305.3 539.8,311.3 538.1,318.0 536.4,323.1 530.5,325.6 527.1,329.8 525.4,337.9"/>
<polyline class="co" points="569.3,288.5 574.4,292.7 581.1,299.4 589.6,307.0 596.4,313.8 603.1,316.3 611.6,318.9 618.0,321.4"/>
<polyline class="co" points="121.7,392.1 125.9,398.0 131.8,398.8 138.6,403.0 145.3,408.9 150.4,417.4 158.9,424.1 165.6,430.9 169.0,433.9"/>
<polyline class="co" points="251.8,338.0 255.1,346.4 260.2,354.9 268.6,366.7 275.4,371.8 283.9,380.2 290.6,385.3 299.1,388.7 299.9,392.9 304.1,397.1 309.2,399.7 316.8,400.5 319.3,403.9 324.4,406.4 336.2,407.6 348.0,407.6 363.2,405.6 370.0,405.6"/>
<polyline class="co" points="370.0,406.4 376.8,404.7 383.5,406.4 387.7,410.6 389.4,415.7 386.9,420.8 380.1,425.0 373.4,428.4 370.0,431.8"/>
<polyline class="co" points="456.1,343.1 459.5,341.4 466.3,343.1 474.7,345.6 481.5,348.1 480.6,350.2 473.0,348.5 464.6,346.1 457.8,345.6 456.1,343.1"/>
<polyline class="co" points="468.8,338.0 478.1,341.4 488.2,345.6 495.0,349.8"/>
<polyline class="co" points="488.2,338.0 495.0,344.8"/>
<polyline class="co" points="495.0,343.9 501.8,348.1 510.2,353.2 517.0,354.9 522.0,354.9 527.1,360.0 526.2,365.9 528.8,370.9 531.3,367.6 538.9,366.7 540.6,370.1 536.4,371.8 533.9,373.5 540.6,376.0 550.7,379.4 555.8,386.1 562.6,392.1 567.6,398.0 568.5,403.9 572.7,406.4 579.5,410.6 587.1,411.5 593.0,414.0 594.7,419.1 593.0,427.5 592.1,433.9"/>
<polyline class="co" points="526.2,338.0 528.8,343.1 533.0,348.1 533.0,354.0 528.8,356.6 525.4,358.3 526.2,365.9"/>
<polyline class="co" points="579.5,410.6 578.6,403.9 579.5,397.1 582.0,392.1 576.1,388.7 577.8,383.6 582.8,376.9 589.6,366.7 596.4,356.6 600.6,352.4 603.1,354.9 603.1,361.6 606.5,365.0 613.2,363.3 618.0,361.6"/>
<polyline class="co" points="168.1,434.0 174.1,439.1 180.8,442.4 187.6,445.8 192.6,450.9 196.9,456.0 202.8,456.8 211.2,452.6 219.7,454.3 229.8,456.8 238.2,455.1 245.0,459.3"/>
<polyline class="co" points="256.0,476.2 258.5,483.0 263.6,488.1 270.3,487.2 277.1,488.1 284.7,494.0 281.3,498.2 277.9,501.6 281.3,503.3 287.2,502.4 295.7,499.9 302.4,498.2 309.2,504.9 313.4,511.7 315.9,518.5 314.3,525.2 311.7,528.3"/>
<polyline class="co" points="370.0,434.0 373.4,439.1 378.4,444.1 390.3,449.2 403.8,455.1 417.3,461.0 425.7,462.7 437.6,468.6 444.3,470.3 452.8,475.4 459.5,482.1 466.3,487.2 478.1,492.3 488.2,496.5 495.0,499.0"/>
<polyline class="co" points="422.4,528.3 427.4,521.8 434.2,514.2 439.3,510.0 447.7,510.9 456.1,512.5 451.9,514.2 450.2,517.6 456.1,521.8 464.6,526.1 469.7,526.1 481.5,526.1 491.6,528.3"/>
<polyline class="co" points="589.6,434.0 587.1,439.1 585.4,450.9 588.8,454.3 587.1,462.7 585.4,471.2 589.6,477.1 590.4,480.5 584.5,483.0 581.1,493.1 577.8,499.9 581.1,504.9 586.2,506.6 587.6,513.4 586.2,521.8 582.8,523.5 579.5,518.5 576.1,516.8 577.8,521.8 582.8,528.3"/>
<polyline class="co" points="495.0,499.0 498.4,500.7 500.1,506.6 505.1,511.7 511.9,516.8 518.6,522.7 524.6,528.3"/>
<polyline class="co" points="150.4,205.9 151.2,194.5 153.8,191.1 160.5,191.9 164.8,189.4 168.1,182.6 165.6,180.1 160.5,179.3 156.3,174.2 152.9,168.3 145.3,162.4 145.3,159.0 149.6,152.2 156.3,144.6 163.1,138.7 169.0,140.1 170.7,141.2 167.3,143.8 160.5,146.3 156.3,152.2 154.6,156.5"/>
<polyline class="co" points="170.7,141.2 177.4,140.4 187.6,137.0 194.3,133.6 201.1,130.3 202.8,124.4 209.5,122.7 216.3,125.2 221.4,129.4 228.1,125.2 231.5,121.0 238.2,122.7 245.0,124.4"/>
<polyline class="co" points="228.1,145.5 226.4,142.9 233.2,140.4 241.6,138.7 245.0,135.3"/>
<polyline class="co" points="226.4,143.8 229.8,152.2 232.3,160.7 236.6,169.1 239.9,177.6 245.0,184.3"/>
<polyline class="co" points="160.5,186.9 159.7,191.1 162.2,193.6"/>
</svg>
<rect x="516.5" y="51" width="102" height="41.5" fill="#fff" stroke="#000" stroke-width="1"/>
<text y="78.7" font-size="20" fill="#1E3CFF" stroke="#1E3CFF" stroke-width="0.35"><tspan x="529.2" font-size="20.5">©</tspan><tspan x="548.2" textLength="57.5" lengthAdjust="spacing">DHMZ</tspan></text>
<rect x="120.5" y="465.5" width="136" height="63" fill="#fff" stroke="#000" stroke-width="1"/>
<text x="248" y="483" class="bx" text-anchor="end" textLength="100" lengthAdjust="spacing">Temperatura zraka</text>
<text x="248" y="497" class="bx" text-anchor="end" textLength="75" lengthAdjust="spacing">na 2m (st. C)</text>
<text x="246.5" y="511" class="bx" text-anchor="end" textLength="105.5" lengthAdjust="spacing">start 00z08dec2011</text>
<text x="246.5" y="524" class="bx" text-anchor="end" textLength="117" lengthAdjust="spacing">termin 12Z08DEC2011</text>
<rect x="120" y="51" width="499" height="478.5" fill="none" stroke="#000" stroke-width="2"/>
<line x1="116" x2="119" y1="106.5" y2="106.5" stroke="#000" stroke-width="1"/>
<text x="114.5" y="110.0" class="ax" text-anchor="end" textLength="17.5" lengthAdjust="spacing">46N</text>
<line x1="116" x2="119" y1="180.5" y2="180.5" stroke="#000" stroke-width="1"/>
<text x="114.5" y="184.0" class="ax" text-anchor="end" textLength="17.5" lengthAdjust="spacing">45N</text>
<line x1="116" x2="119" y1="254.5" y2="254.5" stroke="#000" stroke-width="1"/>
<text x="114.5" y="258.0" class="ax" text-anchor="end" textLength="17.5" lengthAdjust="spacing">44N</text>
<line x1="116" x2="119" y1="328.5" y2="328.5" stroke="#000" stroke-width="1"/>
<text x="114.5" y="332.0" class="ax" text-anchor="end" textLength="17.5" lengthAdjust="spacing">43N</text>
<line x1="116" x2="119" y1="402.5" y2="402.5" stroke="#000" stroke-width="1"/>
<text x="114.5" y="406.0" class="ax" text-anchor="end" textLength="17.5" lengthAdjust="spacing">42N</text>
<line x1="116" x2="119" y1="476.5" y2="476.5" stroke="#000" stroke-width="1"/>
<text x="114.5" y="480.0" class="ax" text-anchor="end" textLength="17.5" lengthAdjust="spacing">41N</text>
<line y1="530" y2="533.5" x1="136.5" x2="136.5" stroke="#000" stroke-width="1"/>
<text x="129.0" y="544" class="ax" textLength="15" lengthAdjust="spacing">12E</text>
<line y1="530" y2="533.5" x1="196.5" x2="196.5" stroke="#000" stroke-width="1"/>
<text x="189.0" y="544" class="ax" textLength="15" lengthAdjust="spacing">13E</text>
<line y1="530" y2="533.5" x1="256.5" x2="256.5" stroke="#000" stroke-width="1"/>
<text x="249.0" y="544" class="ax" textLength="15" lengthAdjust="spacing">14E</text>
<line y1="530" y2="533.5" x1="317.5" x2="317.5" stroke="#000" stroke-width="1"/>
<text x="310.0" y="544" class="ax" textLength="15" lengthAdjust="spacing">15E</text>
<line y1="530" y2="533.5" x1="377.5" x2="377.5" stroke="#000" stroke-width="1"/>
<text x="370.0" y="544" class="ax" textLength="15" lengthAdjust="spacing">16E</text>
<line y1="530" y2="533.5" x1="437.5" x2="437.5" stroke="#000" stroke-width="1"/>
<text x="430.0" y="544" class="ax" textLength="15" lengthAdjust="spacing">17E</text>
<line y1="530" y2="533.5" x1="498.5" x2="498.5" stroke="#000" stroke-width="1"/>
<text x="491.0" y="544" class="ax" textLength="15" lengthAdjust="spacing">18E</text>
<line y1="530" y2="533.5" x1="559.5" x2="559.5" stroke="#000" stroke-width="1"/>
<text x="552.0" y="544" class="ax" textLength="15" lengthAdjust="spacing">19E</text>
<line y1="530" y2="533.5" x1="619.5" x2="619.5" stroke="#000" stroke-width="1"/>
<text x="612.0" y="544" class="ax" textLength="15" lengthAdjust="spacing">20E</text>
<rect x="652" y="78" width="15" height="18" fill="#FFEEDD"/>
<rect x="652" y="96" width="15" height="19" fill="#D8BFD8"/>
<rect x="652" y="115" width="15" height="18" fill="#DDA0DD"/>
<rect x="652" y="133" width="15" height="19" fill="#BA55D3"/>
<rect x="652" y="152" width="15" height="18" fill="#8B008B"/>
<rect x="652" y="170" width="15" height="19" fill="#9B0000"/>
<rect x="652" y="189" width="15" height="19" fill="#CC0000"/>
<rect x="652" y="208" width="15" height="18" fill="#FF0000"/>
<rect x="652" y="226" width="15" height="19" fill="#FF5500"/>
<rect x="652" y="245" width="15" height="19" fill="#F08228"/>
<rect x="652" y="264" width="15" height="18" fill="#E6AF2D"/>
<rect x="652" y="282" width="15" height="19" fill="#E6DC32"/>
<rect x="652" y="301" width="15" height="18" fill="#F0F064"/>
<rect x="652" y="319" width="15" height="19" fill="#E6F5A0"/>
<rect x="652" y="338" width="15" height="18" fill="#A0E632"/>
<rect x="652" y="356" width="15" height="19" fill="#00DC00"/>
<rect x="652" y="375" width="15" height="19" fill="#00B400"/>
<rect x="652" y="394" width="15" height="18" fill="#008200"/>
<rect x="652" y="412" width="15" height="19" fill="#1E3CFF"/>
<rect x="652" y="431" width="15" height="19" fill="#00A0E6"/>
<rect x="652" y="450" width="15" height="18" fill="#B0E0E6"/>
<rect x="652" y="468" width="15" height="19" fill="#F0FFFF"/>
<text x="670" y="81.0" class="lg">29</text>
<text x="670" y="99.6" class="lg">27</text>
<text x="670" y="118.2" class="lg">25</text>
<text x="670" y="136.8" class="lg">23</text>
<text x="670" y="155.4" class="lg">21</text>
<text x="670" y="174.0" class="lg">19</text>
<text x="670" y="192.6" class="lg">17</text>
<text x="670" y="211.2" class="lg">15</text>
<text x="670" y="229.8" class="lg">13</text>
<text x="670" y="248.4" class="lg">11</text>
<text x="670" y="267.0" class="lg">9</text>
<text x="670" y="285.6" class="lg">7</text>
<text x="670" y="304.2" class="lg">5</text>
<text x="670" y="322.8" class="lg">3</text>
<text x="670" y="341.4" class="lg">1</text>
<text x="670" y="360.0" class="lg" textLength="16.5" lengthAdjust="spacing">−1</text>
<text x="670" y="378.6" class="lg" textLength="16.5" lengthAdjust="spacing">−3</text>
<text x="670" y="397.2" class="lg" textLength="16.5" lengthAdjust="spacing">−5</text>
<text x="670" y="415.8" class="lg" textLength="16.5" lengthAdjust="spacing">−7</text>
<text x="670" y="434.4" class="lg" textLength="16.5" lengthAdjust="spacing">−9</text>
<text x="670" y="453.0" class="lg" textLength="24" lengthAdjust="spacing">−11</text>
<text x="670" y="471.6" class="lg" textLength="24" lengthAdjust="spacing">−13</text>
<text x="670" y="490.2" class="lg" textLength="24" lengthAdjust="spacing">−15</text>
<text x="670" y="508.8" class="lg" textLength="24" lengthAdjust="spacing">−17</text>
<text x="664.5" y="528" class="ax" textLength="34.5" lengthAdjust="spacing">(st. C)</text>
</svg>
</body></html>
